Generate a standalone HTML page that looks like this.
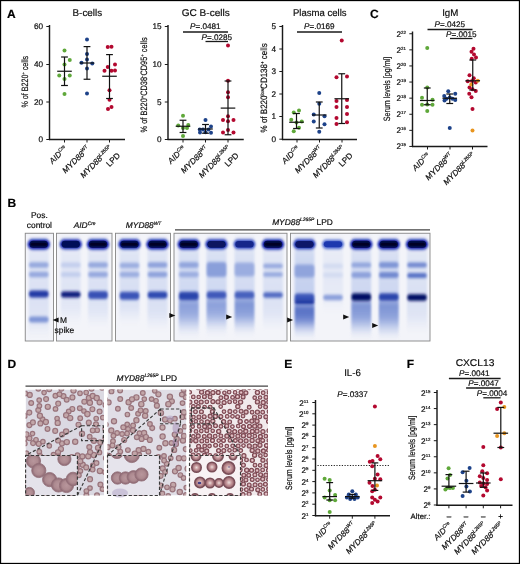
<!DOCTYPE html>
<html><head><meta charset="utf-8"><title>Figure</title>
<style>html,body{margin:0;padding:0;background:#fff;} svg{display:block;} text{font-family:'Liberation Sans', Arial, sans-serif;stroke:#000;stroke-width:0.18px;}</style>
</head><body>
<svg width="520" height="564" viewBox="0 0 520 564" text-rendering="geometricPrecision">
<rect x="0" y="0" width="520" height="564" fill="#fff"/>
<text x="7" y="17.9" font-size="12" text-anchor="start" font-weight="bold" font-style="normal" fill="#000" >A</text>
<text x="370" y="17.9" font-size="12" text-anchor="start" font-weight="bold" font-style="normal" fill="#000" >C</text>
<text x="7.6" y="207.0" font-size="12" text-anchor="start" font-weight="bold" font-style="normal" fill="#000" >B</text>
<text x="7.6" y="367.7" font-size="12" text-anchor="start" font-weight="bold" font-style="normal" fill="#000" >D</text>
<text x="284.3" y="367.7" font-size="12" text-anchor="start" font-weight="bold" font-style="normal" fill="#000" >E</text>
<text x="406.8" y="367.7" font-size="12" text-anchor="start" font-weight="bold" font-style="normal" fill="#000" >F</text>
<text x="72.55" y="15.6" font-size="9.8" textLength="29.60" lengthAdjust="spacingAndGlyphs" fill="#111">B-cells</text>
<line x1="49.5" y1="25" x2="49.5" y2="140.1" stroke="#1a1a1a" stroke-width="1.45" />
<line x1="46.3" y1="26.5" x2="49.5" y2="26.5" stroke="#1a1a1a" stroke-width="1.0" />
<text x="43.0" y="29.4" font-size="8.2" text-anchor="end" font-weight="normal" font-style="normal" fill="#111" >60</text>
<line x1="46.3" y1="64.5" x2="49.5" y2="64.5" stroke="#1a1a1a" stroke-width="1.0" />
<text x="43.0" y="67.4" font-size="8.2" text-anchor="end" font-weight="normal" font-style="normal" fill="#111" >40</text>
<line x1="46.3" y1="102" x2="49.5" y2="102" stroke="#1a1a1a" stroke-width="1.0" />
<text x="43.0" y="104.9" font-size="8.2" text-anchor="end" font-weight="normal" font-style="normal" fill="#111" >20</text>
<line x1="46.3" y1="139.5" x2="49.5" y2="139.5" stroke="#1a1a1a" stroke-width="1.0" />
<text x="43.0" y="142.4" font-size="8.2" text-anchor="end" font-weight="normal" font-style="normal" fill="#111" >0</text>
<line x1="48.9" y1="139.5" x2="125" y2="139.5" stroke="#1a1a1a" stroke-width="1.45" />
<line x1="64.5" y1="139.5" x2="64.5" y2="142.5" stroke="#1a1a1a" stroke-width="1.0" />
<line x1="87" y1="139.5" x2="87" y2="142.5" stroke="#1a1a1a" stroke-width="1.0" />
<line x1="109.5" y1="139.5" x2="109.5" y2="142.5" stroke="#1a1a1a" stroke-width="1.0" />
<text transform="translate(27.5,81.7) rotate(-90)" x="-25.8" y="0" font-size="9.2" textLength="51.6" lengthAdjust="spacingAndGlyphs" fill="#111">% of B220<tspan font-size="5" dy="-3">+</tspan><tspan dy="3"> cells</tspan></text>
<text transform="translate(67.8,149.1) rotate(-45)" font-size="8.2" text-anchor="end" fill="#111"><tspan font-style="italic">AID</tspan><tspan font-style="italic" font-size="4.9" dy="-3.3">Cre</tspan></text>
<text transform="translate(90.3,149.1) rotate(-45)" font-size="8.2" text-anchor="end" fill="#111"><tspan font-style="italic">MYD88</tspan><tspan font-style="italic" font-size="4.9" dy="-3.3">WT</tspan></text>
<text transform="translate(112.8,149.1) rotate(-45)" font-size="8.2" text-anchor="end" fill="#111"><tspan font-style="italic">MYD88</tspan><tspan font-style="italic" font-size="4.9" dy="-3.3">L265P</tspan></text>
<text transform="translate(120.8,156.0) rotate(-45)" font-size="8.2" text-anchor="end" fill="#111">LPD</text>
<circle cx="64.5" cy="50.6" r="2.0" fill="#5fa83a"/>
<circle cx="69.75" cy="60" r="2.0" fill="#5fa83a"/>
<circle cx="64.5" cy="64.5" r="2.0" fill="#5fa83a"/>
<circle cx="59.25" cy="75.6" r="2.0" fill="#5fa83a"/>
<circle cx="69.75" cy="75.6" r="2.0" fill="#5fa83a"/>
<circle cx="64.5" cy="79" r="2.0" fill="#5fa83a"/>
<circle cx="64.5" cy="94.1" r="2.0" fill="#5fa83a"/>
<circle cx="87" cy="39.6" r="2.0" fill="#1d4289"/>
<circle cx="87" cy="54.1" r="2.0" fill="#1d4289"/>
<circle cx="87" cy="59.5" r="2.0" fill="#1d4289"/>
<circle cx="81.5" cy="62.75" r="2.0" fill="#1d4289"/>
<circle cx="92.25" cy="63.5" r="2.0" fill="#1d4289"/>
<circle cx="87" cy="68.5" r="2.0" fill="#1d4289"/>
<circle cx="87" cy="93.5" r="2.0" fill="#1d4289"/>
<circle cx="107.75" cy="47" r="2.0" fill="#b3082f"/>
<circle cx="111.5" cy="46.75" r="2.0" fill="#b3082f"/>
<circle cx="115" cy="64.5" r="2.0" fill="#b3082f"/>
<circle cx="107.75" cy="67" r="2.0" fill="#b3082f"/>
<circle cx="104.5" cy="70.75" r="2.0" fill="#b3082f"/>
<circle cx="111.5" cy="70.75" r="2.0" fill="#b3082f"/>
<circle cx="115" cy="70.5" r="2.0" fill="#b3082f"/>
<circle cx="109.5" cy="90.25" r="2.0" fill="#b3082f"/>
<circle cx="109.5" cy="99.75" r="2.0" fill="#b3082f"/>
<circle cx="108" cy="109" r="2.0" fill="#b3082f"/>
<circle cx="111.5" cy="107" r="2.0" fill="#b3082f"/>
<text x="181.65" y="15.6" font-size="9.8" textLength="48.20" lengthAdjust="spacingAndGlyphs" fill="#111">GC B-cells</text>
<line x1="168" y1="25" x2="168" y2="140.1" stroke="#1a1a1a" stroke-width="1.45" />
<line x1="164.8" y1="26.5" x2="168" y2="26.5" stroke="#1a1a1a" stroke-width="1.0" />
<text x="161.5" y="29.4" font-size="8.2" text-anchor="end" font-weight="normal" font-style="normal" fill="#111" >15</text>
<line x1="164.8" y1="64.5" x2="168" y2="64.5" stroke="#1a1a1a" stroke-width="1.0" />
<text x="161.5" y="67.4" font-size="8.2" text-anchor="end" font-weight="normal" font-style="normal" fill="#111" >10</text>
<line x1="164.8" y1="102" x2="168" y2="102" stroke="#1a1a1a" stroke-width="1.0" />
<text x="161.5" y="104.9" font-size="8.2" text-anchor="end" font-weight="normal" font-style="normal" fill="#111" >5</text>
<line x1="164.8" y1="139.5" x2="168" y2="139.5" stroke="#1a1a1a" stroke-width="1.0" />
<text x="161.5" y="142.4" font-size="8.2" text-anchor="end" font-weight="normal" font-style="normal" fill="#111" >0</text>
<line x1="167.4" y1="139.5" x2="243.75" y2="139.5" stroke="#1a1a1a" stroke-width="1.45" />
<line x1="183" y1="139.5" x2="183" y2="142.5" stroke="#1a1a1a" stroke-width="1.0" />
<line x1="205.5" y1="139.5" x2="205.5" y2="142.5" stroke="#1a1a1a" stroke-width="1.0" />
<line x1="228" y1="139.5" x2="228" y2="142.5" stroke="#1a1a1a" stroke-width="1.0" />
<text transform="translate(147.4,84.9) rotate(-90)" x="-47.5" y="0" font-size="9.2" textLength="95" lengthAdjust="spacingAndGlyphs" fill="#111">% of B220<tspan font-size="5" dy="-3">+</tspan><tspan dy="3">CD38</tspan><tspan font-size="5" dy="-3">-</tspan><tspan dy="3">CD95</tspan><tspan font-size="5" dy="-3">+</tspan><tspan dy="3"> cells</tspan></text>
<text transform="translate(186.3,149.1) rotate(-45)" font-size="8.2" text-anchor="end" fill="#111"><tspan font-style="italic">AID</tspan><tspan font-style="italic" font-size="4.9" dy="-3.3">Cre</tspan></text>
<text transform="translate(208.8,149.1) rotate(-45)" font-size="8.2" text-anchor="end" fill="#111"><tspan font-style="italic">MYD88</tspan><tspan font-style="italic" font-size="4.9" dy="-3.3">WT</tspan></text>
<text transform="translate(231.3,149.1) rotate(-45)" font-size="8.2" text-anchor="end" fill="#111"><tspan font-style="italic">MYD88</tspan><tspan font-style="italic" font-size="4.9" dy="-3.3">L265P</tspan></text>
<text transform="translate(239.3,156.0) rotate(-45)" font-size="8.2" text-anchor="end" fill="#111">LPD</text>
<text x="190.00" y="29.2" font-size="8.1" textLength="30.6" lengthAdjust="spacingAndGlyphs" fill="#111"><tspan font-style="italic">P</tspan>=.0481</text>
<line x1="183" y1="32" x2="228" y2="32" stroke="#1a1a1a" stroke-width="1.3" />
<text x="201.45" y="39.6" font-size="8.1" textLength="30.6" lengthAdjust="spacingAndGlyphs" fill="#111"><tspan font-style="italic">P</tspan>=.0285</text>
<line x1="205.5" y1="41.5" x2="228" y2="41.5" stroke="#1a1a1a" stroke-width="1.3" />
<circle cx="183" cy="115.75" r="2.0" fill="#5fa83a"/>
<circle cx="178.25" cy="125.6" r="2.0" fill="#5fa83a"/>
<circle cx="188.25" cy="125" r="2.0" fill="#5fa83a"/>
<circle cx="187" cy="128" r="2.0" fill="#5fa83a"/>
<circle cx="183" cy="128" r="2.0" fill="#5fa83a"/>
<circle cx="183" cy="136" r="2.0" fill="#5fa83a"/>
<circle cx="205.5" cy="120" r="2.0" fill="#1d4289"/>
<circle cx="211" cy="126.5" r="2.0" fill="#1d4289"/>
<circle cx="199.75" cy="129.5" r="2.0" fill="#1d4289"/>
<circle cx="203" cy="129.5" r="2.0" fill="#1d4289"/>
<circle cx="208.5" cy="129.5" r="2.0" fill="#1d4289"/>
<circle cx="200" cy="132.5" r="2.0" fill="#1d4289"/>
<circle cx="205.5" cy="132.25" r="2.0" fill="#1d4289"/>
<circle cx="211" cy="132.75" r="2.0" fill="#1d4289"/>
<circle cx="228" cy="45.6" r="2.0" fill="#b3082f"/>
<circle cx="228" cy="80.75" r="2.0" fill="#b3082f"/>
<circle cx="228" cy="92.25" r="2.0" fill="#b3082f"/>
<circle cx="228" cy="97.25" r="2.0" fill="#b3082f"/>
<circle cx="228" cy="116.25" r="2.0" fill="#b3082f"/>
<circle cx="223" cy="120" r="2.0" fill="#b3082f"/>
<circle cx="228" cy="121.25" r="2.0" fill="#b3082f"/>
<circle cx="233.5" cy="120" r="2.0" fill="#b3082f"/>
<circle cx="228" cy="130" r="2.0" fill="#b3082f"/>
<circle cx="223" cy="132.5" r="2.0" fill="#b3082f"/>
<circle cx="233.5" cy="132.5" r="2.0" fill="#b3082f"/>
<text x="292.95" y="15.6" font-size="9.8" textLength="53.60" lengthAdjust="spacingAndGlyphs" fill="#111">Plasma cells</text>
<line x1="282.5" y1="25" x2="282.5" y2="140.1" stroke="#1a1a1a" stroke-width="1.45" />
<line x1="279.3" y1="26.5" x2="282.5" y2="26.5" stroke="#1a1a1a" stroke-width="1.0" />
<text x="276.0" y="29.4" font-size="8.2" text-anchor="end" font-weight="normal" font-style="normal" fill="#111" >5</text>
<line x1="279.3" y1="49" x2="282.5" y2="49" stroke="#1a1a1a" stroke-width="1.0" />
<text x="276.0" y="51.9" font-size="8.2" text-anchor="end" font-weight="normal" font-style="normal" fill="#111" >4</text>
<line x1="279.3" y1="71.5" x2="282.5" y2="71.5" stroke="#1a1a1a" stroke-width="1.0" />
<text x="276.0" y="74.4" font-size="8.2" text-anchor="end" font-weight="normal" font-style="normal" fill="#111" >3</text>
<line x1="279.3" y1="94" x2="282.5" y2="94" stroke="#1a1a1a" stroke-width="1.0" />
<text x="276.0" y="96.9" font-size="8.2" text-anchor="end" font-weight="normal" font-style="normal" fill="#111" >2</text>
<line x1="279.3" y1="116.5" x2="282.5" y2="116.5" stroke="#1a1a1a" stroke-width="1.0" />
<text x="276.0" y="119.4" font-size="8.2" text-anchor="end" font-weight="normal" font-style="normal" fill="#111" >1</text>
<line x1="279.3" y1="139.2" x2="282.5" y2="139.2" stroke="#1a1a1a" stroke-width="1.0" />
<text x="276.0" y="142.1" font-size="8.2" text-anchor="end" font-weight="normal" font-style="normal" fill="#111" >0</text>
<line x1="281.9" y1="139.5" x2="357" y2="139.5" stroke="#1a1a1a" stroke-width="1.45" />
<line x1="297" y1="139.5" x2="297" y2="142.5" stroke="#1a1a1a" stroke-width="1.0" />
<line x1="319.5" y1="139.5" x2="319.5" y2="142.5" stroke="#1a1a1a" stroke-width="1.0" />
<line x1="342" y1="139.5" x2="342" y2="142.5" stroke="#1a1a1a" stroke-width="1.0" />
<text transform="translate(266.5,87.8) rotate(-90)" x="-44.65" y="0" font-size="9.2" textLength="89.3" lengthAdjust="spacingAndGlyphs" fill="#111">% of B220<tspan font-size="5" dy="-3">low</tspan><tspan dy="3">CD138</tspan><tspan font-size="5" dy="-3">+</tspan><tspan dy="3"> cells</tspan></text>
<text transform="translate(300.3,149.1) rotate(-45)" font-size="8.2" text-anchor="end" fill="#111"><tspan font-style="italic">AID</tspan><tspan font-style="italic" font-size="4.9" dy="-3.3">Cre</tspan></text>
<text transform="translate(322.8,149.1) rotate(-45)" font-size="8.2" text-anchor="end" fill="#111"><tspan font-style="italic">MYD88</tspan><tspan font-style="italic" font-size="4.9" dy="-3.3">WT</tspan></text>
<text transform="translate(345.3,149.1) rotate(-45)" font-size="8.2" text-anchor="end" fill="#111"><tspan font-style="italic">MYD88</tspan><tspan font-style="italic" font-size="4.9" dy="-3.3">L265P</tspan></text>
<text transform="translate(353.3,156.0) rotate(-45)" font-size="8.2" text-anchor="end" fill="#111">LPD</text>
<text x="303.95" y="29.2" font-size="8.1" textLength="30.6" lengthAdjust="spacingAndGlyphs" fill="#111"><tspan font-style="italic">P</tspan>=.0169</text>
<line x1="297" y1="32" x2="342" y2="32" stroke="#1a1a1a" stroke-width="1.3" />
<circle cx="293.75" cy="112.5" r="2.0" fill="#5fa83a"/>
<circle cx="299" cy="110.5" r="2.0" fill="#5fa83a"/>
<circle cx="291.25" cy="119.75" r="2.0" fill="#5fa83a"/>
<circle cx="301.75" cy="121.5" r="2.0" fill="#5fa83a"/>
<circle cx="296.5" cy="122.5" r="2.0" fill="#5fa83a"/>
<circle cx="299" cy="127.75" r="2.0" fill="#5fa83a"/>
<circle cx="293.75" cy="131.25" r="2.0" fill="#5fa83a"/>
<circle cx="319.25" cy="93" r="2.0" fill="#1d4289"/>
<circle cx="319.25" cy="103.75" r="2.0" fill="#1d4289"/>
<circle cx="313.75" cy="114.5" r="2.0" fill="#1d4289"/>
<circle cx="324.5" cy="116.25" r="2.0" fill="#1d4289"/>
<circle cx="313.75" cy="121.5" r="2.0" fill="#1d4289"/>
<circle cx="324.5" cy="124.25" r="2.0" fill="#1d4289"/>
<circle cx="319.25" cy="131.75" r="2.0" fill="#1d4289"/>
<circle cx="341.75" cy="40.5" r="2.0" fill="#b3082f"/>
<circle cx="336.5" cy="77.25" r="2.0" fill="#b3082f"/>
<circle cx="347" cy="76.5" r="2.0" fill="#b3082f"/>
<circle cx="336.5" cy="101" r="2.0" fill="#b3082f"/>
<circle cx="347" cy="100" r="2.0" fill="#b3082f"/>
<circle cx="336.5" cy="107" r="2.0" fill="#b3082f"/>
<circle cx="347" cy="107" r="2.0" fill="#b3082f"/>
<circle cx="347" cy="114" r="2.0" fill="#b3082f"/>
<circle cx="336.5" cy="118" r="2.0" fill="#b3082f"/>
<circle cx="336.5" cy="124" r="2.0" fill="#b3082f"/>
<circle cx="347" cy="122.25" r="2.0" fill="#b3082f"/>
<text x="442.15" y="15.6" font-size="9.8" textLength="16.20" lengthAdjust="spacingAndGlyphs" fill="#111">IgM</text>
<line x1="412.5" y1="31.5" x2="412.5" y2="147.1" stroke="#1a1a1a" stroke-width="1.45" />
<line x1="409.3" y1="33.75" x2="412.5" y2="33.75" stroke="#1a1a1a" stroke-width="1.0" />
<text x="405.9" y="36.75" font-size="8.2" text-anchor="end" fill="#111">2<tspan font-size="4.4" dy="-3.0">22</tspan></text>
<line x1="409.3" y1="49.85" x2="412.5" y2="49.85" stroke="#1a1a1a" stroke-width="1.0" />
<text x="405.9" y="52.85" font-size="8.2" text-anchor="end" fill="#111">2<tspan font-size="4.4" dy="-3.0">21</tspan></text>
<line x1="409.3" y1="65.95" x2="412.5" y2="65.95" stroke="#1a1a1a" stroke-width="1.0" />
<text x="405.9" y="68.95" font-size="8.2" text-anchor="end" fill="#111">2<tspan font-size="4.4" dy="-3.0">20</tspan></text>
<line x1="409.3" y1="82.05000000000001" x2="412.5" y2="82.05000000000001" stroke="#1a1a1a" stroke-width="1.0" />
<text x="405.9" y="85.05000000000001" font-size="8.2" text-anchor="end" fill="#111">2<tspan font-size="4.4" dy="-3.0">19</tspan></text>
<line x1="409.3" y1="98.15" x2="412.5" y2="98.15" stroke="#1a1a1a" stroke-width="1.0" />
<text x="405.9" y="101.15" font-size="8.2" text-anchor="end" fill="#111">2<tspan font-size="4.4" dy="-3.0">18</tspan></text>
<line x1="409.3" y1="114.25" x2="412.5" y2="114.25" stroke="#1a1a1a" stroke-width="1.0" />
<text x="405.9" y="117.25" font-size="8.2" text-anchor="end" fill="#111">2<tspan font-size="4.4" dy="-3.0">17</tspan></text>
<line x1="409.3" y1="130.35000000000002" x2="412.5" y2="130.35000000000002" stroke="#1a1a1a" stroke-width="1.0" />
<text x="405.9" y="133.35000000000002" font-size="8.2" text-anchor="end" fill="#111">2<tspan font-size="4.4" dy="-3.0">16</tspan></text>
<line x1="409.3" y1="146.45000000000002" x2="412.5" y2="146.45000000000002" stroke="#1a1a1a" stroke-width="1.0" />
<text x="405.9" y="149.45000000000002" font-size="8.2" text-anchor="end" fill="#111">2<tspan font-size="4.4" dy="-3.0">15</tspan></text>
<line x1="411.9" y1="146.5" x2="487.5" y2="146.5" stroke="#1a1a1a" stroke-width="1.45" />
<line x1="427.5" y1="146.5" x2="427.5" y2="149.5" stroke="#1a1a1a" stroke-width="1.0" />
<line x1="450" y1="146.5" x2="450" y2="149.5" stroke="#1a1a1a" stroke-width="1.0" />
<line x1="472.5" y1="146.5" x2="472.5" y2="149.5" stroke="#1a1a1a" stroke-width="1.0" />
<text transform="translate(389.8,89) rotate(-90)" x="-32.15" y="0" font-size="9.2" textLength="64.3" lengthAdjust="spacingAndGlyphs" fill="#111">Serum levels [pg/ml]</text>
<text transform="translate(430.8,156.1) rotate(-45)" font-size="8.2" text-anchor="end" fill="#111"><tspan font-style="italic">AID</tspan><tspan font-style="italic" font-size="4.9" dy="-3.3">Cre</tspan></text>
<text transform="translate(453.3,156.1) rotate(-45)" font-size="8.2" text-anchor="end" fill="#111"><tspan font-style="italic">MYD88</tspan><tspan font-style="italic" font-size="4.9" dy="-3.3">WT</tspan></text>
<text transform="translate(475.8,156.1) rotate(-45)" font-size="8.2" text-anchor="end" fill="#111"><tspan font-style="italic">MYD88</tspan><tspan font-style="italic" font-size="4.9" dy="-3.3">L265P</tspan></text>
<text x="434.45" y="27.2" font-size="8.1" textLength="30.6" lengthAdjust="spacingAndGlyphs" fill="#111"><tspan font-style="italic">P</tspan>=.0425</text>
<line x1="427.5" y1="29.5" x2="472.5" y2="29.5" stroke="#1a1a1a" stroke-width="1.3" />
<text x="445.95" y="36.6" font-size="8.1" textLength="30.6" lengthAdjust="spacingAndGlyphs" fill="#111"><tspan font-style="italic">P</tspan>=.0015</text>
<line x1="450" y1="38.5" x2="472.5" y2="38.5" stroke="#1a1a1a" stroke-width="1.3" />
<circle cx="427.25" cy="48" r="2.0" fill="#5fa83a"/>
<circle cx="427.25" cy="87.5" r="2.0" fill="#5fa83a"/>
<circle cx="422" cy="97.75" r="2.0" fill="#5fa83a"/>
<circle cx="432.5" cy="99.75" r="2.0" fill="#5fa83a"/>
<circle cx="422" cy="104.75" r="2.0" fill="#5fa83a"/>
<circle cx="432.5" cy="104.75" r="2.0" fill="#5fa83a"/>
<circle cx="427.25" cy="104.5" r="2.0" fill="#5fa83a"/>
<circle cx="427.25" cy="111" r="2.0" fill="#5fa83a"/>
<circle cx="448.25" cy="91.25" r="2.0" fill="#1d4289"/>
<circle cx="455.25" cy="93.75" r="2.0" fill="#1d4289"/>
<circle cx="444.25" cy="96" r="2.0" fill="#1d4289"/>
<circle cx="449.75" cy="97.5" r="2.0" fill="#1d4289"/>
<circle cx="446.5" cy="98.75" r="2.0" fill="#1d4289"/>
<circle cx="452.5" cy="98.75" r="2.0" fill="#1d4289"/>
<circle cx="455.25" cy="100" r="2.0" fill="#1d4289"/>
<circle cx="444.5" cy="100.5" r="2.0" fill="#1d4289"/>
<circle cx="449.75" cy="128" r="2.0" fill="#1d4289"/>
<circle cx="473.5" cy="48.75" r="2.0" fill="#b3082f"/>
<circle cx="471.5" cy="51.75" r="2.0" fill="#b3082f"/>
<circle cx="474" cy="54.5" r="2.0" fill="#b3082f"/>
<circle cx="476" cy="57.5" r="2.0" fill="#b3082f"/>
<circle cx="471.75" cy="58.75" r="2.0" fill="#b3082f"/>
<circle cx="469.5" cy="75.25" r="2.0" fill="#b3082f"/>
<circle cx="473.75" cy="78.25" r="2.0" fill="#b3082f"/>
<circle cx="467.75" cy="81.25" r="2.0" fill="#b3082f"/>
<circle cx="472" cy="81" r="2.0" fill="#b3082f"/>
<circle cx="475.75" cy="82.5" r="2.0" fill="#b3082f"/>
<circle cx="469.5" cy="87.5" r="2.0" fill="#b3082f"/>
<circle cx="472.5" cy="89.25" r="2.0" fill="#b3082f"/>
<circle cx="475.75" cy="91" r="2.0" fill="#b3082f"/>
<circle cx="469.25" cy="93.75" r="2.0" fill="#b3082f"/>
<circle cx="471.5" cy="97.25" r="2.0" fill="#b3082f"/>
<circle cx="472.5" cy="109" r="2.0" fill="#b3082f"/>
<circle cx="477.75" cy="80.75" r="2.0" fill="#e8951f"/>
<circle cx="471.25" cy="84.5" r="2.0" fill="#e8951f"/>
<circle cx="472.5" cy="130.5" r="2.0" fill="#e8951f"/>
<text x="344.15" y="375.6" font-size="9.8" textLength="16.70" lengthAdjust="spacingAndGlyphs" fill="#111">IL-6</text>
<line x1="315.5" y1="400" x2="315.5" y2="516.3000000000001" stroke="#1a1a1a" stroke-width="1.45" />
<line x1="312.3" y1="402.5" x2="315.5" y2="402.5" stroke="#1a1a1a" stroke-width="1.0" />
<text x="308.4" y="405.5" font-size="8.2" text-anchor="end" fill="#111">2<tspan font-size="4.4" dy="-3.0">11</tspan></text>
<line x1="312.3" y1="413.8" x2="315.5" y2="413.8" stroke="#1a1a1a" stroke-width="1.0" />
<text x="308.4" y="416.8" font-size="8.2" text-anchor="end" fill="#111">2<tspan font-size="4.4" dy="-3.0">10</tspan></text>
<line x1="312.3" y1="425.1" x2="315.5" y2="425.1" stroke="#1a1a1a" stroke-width="1.0" />
<text x="308.4" y="428.1" font-size="8.2" text-anchor="end" fill="#111">2<tspan font-size="4.4" dy="-3.0">9</tspan></text>
<line x1="312.3" y1="436.4" x2="315.5" y2="436.4" stroke="#1a1a1a" stroke-width="1.0" />
<text x="308.4" y="439.4" font-size="8.2" text-anchor="end" fill="#111">2<tspan font-size="4.4" dy="-3.0">8</tspan></text>
<line x1="312.3" y1="447.7" x2="315.5" y2="447.7" stroke="#1a1a1a" stroke-width="1.0" />
<text x="308.4" y="450.7" font-size="8.2" text-anchor="end" fill="#111">2<tspan font-size="4.4" dy="-3.0">7</tspan></text>
<line x1="312.3" y1="459.0" x2="315.5" y2="459.0" stroke="#1a1a1a" stroke-width="1.0" />
<text x="308.4" y="462.0" font-size="8.2" text-anchor="end" fill="#111">2<tspan font-size="4.4" dy="-3.0">6</tspan></text>
<line x1="312.3" y1="470.3" x2="315.5" y2="470.3" stroke="#1a1a1a" stroke-width="1.0" />
<text x="308.4" y="473.3" font-size="8.2" text-anchor="end" fill="#111">2<tspan font-size="4.4" dy="-3.0">5</tspan></text>
<line x1="312.3" y1="481.6" x2="315.5" y2="481.6" stroke="#1a1a1a" stroke-width="1.0" />
<text x="308.4" y="484.6" font-size="8.2" text-anchor="end" fill="#111">2<tspan font-size="4.4" dy="-3.0">4</tspan></text>
<line x1="312.3" y1="492.9" x2="315.5" y2="492.9" stroke="#1a1a1a" stroke-width="1.0" />
<text x="308.4" y="495.9" font-size="8.2" text-anchor="end" fill="#111">2<tspan font-size="4.4" dy="-3.0">3</tspan></text>
<line x1="312.3" y1="504.2" x2="315.5" y2="504.2" stroke="#1a1a1a" stroke-width="1.0" />
<text x="308.4" y="507.2" font-size="8.2" text-anchor="end" fill="#111">2<tspan font-size="4.4" dy="-3.0">2</tspan></text>
<line x1="312.3" y1="515.5" x2="315.5" y2="515.5" stroke="#1a1a1a" stroke-width="1.0" />
<text x="308.4" y="518.5" font-size="8.2" text-anchor="end" fill="#111">2<tspan font-size="4.4" dy="-3.0">1</tspan></text>
<line x1="314.9" y1="515.7" x2="390" y2="515.7" stroke="#1a1a1a" stroke-width="1.45" />
<line x1="329.7" y1="515.7" x2="329.7" y2="518.7" stroke="#1a1a1a" stroke-width="1.0" />
<line x1="352.3" y1="515.7" x2="352.3" y2="518.7" stroke="#1a1a1a" stroke-width="1.0" />
<line x1="374.9" y1="515.7" x2="374.9" y2="518.7" stroke="#1a1a1a" stroke-width="1.0" />
<text transform="translate(291.6,458.2) rotate(-90)" x="-31.75" y="0" font-size="9.2" textLength="63.5" lengthAdjust="spacingAndGlyphs" fill="#111">Serum levels [pg/ml]</text>
<text transform="translate(333.0,525.3000000000001) rotate(-45)" font-size="8.2" text-anchor="end" fill="#111"><tspan font-style="italic">AID</tspan><tspan font-style="italic" font-size="4.9" dy="-3.3">Cre</tspan></text>
<text transform="translate(355.6,525.3000000000001) rotate(-45)" font-size="8.2" text-anchor="end" fill="#111"><tspan font-style="italic">MYD88</tspan><tspan font-style="italic" font-size="4.9" dy="-3.3">WT</tspan></text>
<text transform="translate(378.2,525.3000000000001) rotate(-45)" font-size="8.2" text-anchor="end" fill="#111"><tspan font-style="italic">MYD88</tspan><tspan font-style="italic" font-size="4.9" dy="-3.3">L265P</tspan></text>
<text x="337.20" y="397.2" font-size="8.1" textLength="30.6" lengthAdjust="spacingAndGlyphs" fill="#111"><tspan font-style="italic">P</tspan>=.0337</text>
<line x1="317.5" y1="465.5" x2="389.5" y2="465.5" stroke="#222" stroke-width="1.1" stroke-dasharray="1.2 1.5"/>
<circle cx="324.6" cy="478.8" r="2.0" fill="#5fa83a"/>
<circle cx="329.7" cy="480.1" r="2.0" fill="#5fa83a"/>
<circle cx="329.7" cy="490.6" r="2.0" fill="#5fa83a"/>
<circle cx="324.6" cy="497.4" r="2.0" fill="#5fa83a"/>
<circle cx="335.1" cy="495" r="2.0" fill="#5fa83a"/>
<circle cx="329.7" cy="500.3" r="2.0" fill="#5fa83a"/>
<circle cx="335.1" cy="500.3" r="2.0" fill="#5fa83a"/>
<circle cx="329.7" cy="511.9" r="2.0" fill="#5fa83a"/>
<circle cx="352.3" cy="491.2" r="2.0" fill="#1d4289"/>
<circle cx="348.8" cy="494.4" r="2.0" fill="#1d4289"/>
<circle cx="355.8" cy="494.4" r="2.0" fill="#1d4289"/>
<circle cx="346.9" cy="497.4" r="2.0" fill="#1d4289"/>
<circle cx="351" cy="497.4" r="2.0" fill="#1d4289"/>
<circle cx="354" cy="497.4" r="2.0" fill="#1d4289"/>
<circle cx="357.7" cy="497.4" r="2.0" fill="#1d4289"/>
<circle cx="350.2" cy="499" r="2.0" fill="#1d4289"/>
<circle cx="354.5" cy="499" r="2.0" fill="#1d4289"/>
<circle cx="374.9" cy="406.5" r="2.0" fill="#b3082f"/>
<circle cx="377.6" cy="456" r="2.0" fill="#b3082f"/>
<circle cx="380.3" cy="459.2" r="2.0" fill="#b3082f"/>
<circle cx="369.8" cy="461.8" r="2.0" fill="#b3082f"/>
<circle cx="372.5" cy="461" r="2.0" fill="#b3082f"/>
<circle cx="372.2" cy="466.2" r="2.0" fill="#b3082f"/>
<circle cx="377.6" cy="474.5" r="2.0" fill="#b3082f"/>
<circle cx="374.9" cy="478.8" r="2.0" fill="#b3082f"/>
<circle cx="380.3" cy="479.3" r="2.0" fill="#b3082f"/>
<circle cx="369.5" cy="482.8" r="2.0" fill="#b3082f"/>
<circle cx="372.5" cy="486" r="2.0" fill="#b3082f"/>
<circle cx="374.9" cy="489.8" r="2.0" fill="#b3082f"/>
<circle cx="372.2" cy="491.2" r="2.0" fill="#b3082f"/>
<circle cx="372.2" cy="497.4" r="2.0" fill="#b3082f"/>
<circle cx="380.3" cy="497.4" r="2.0" fill="#b3082f"/>
<circle cx="374.9" cy="499.8" r="2.0" fill="#b3082f"/>
<circle cx="377.6" cy="501.4" r="2.0" fill="#b3082f"/>
<circle cx="372.2" cy="503" r="2.0" fill="#b3082f"/>
<circle cx="374.9" cy="446" r="2.0" fill="#e8951f"/>
<circle cx="377" cy="485.5" r="2.0" fill="#e8951f"/>
<text x="455.65" y="366" font-size="9.8" textLength="38.70" lengthAdjust="spacingAndGlyphs" fill="#111">CXCL13</text>
<line x1="437" y1="390" x2="437" y2="505.90000000000003" stroke="#1a1a1a" stroke-width="1.45" />
<line x1="433.8" y1="392.5" x2="437" y2="392.5" stroke="#1a1a1a" stroke-width="1.0" />
<text x="430.4" y="395.5" font-size="8.2" text-anchor="end" fill="#111">2<tspan font-size="4.4" dy="-3.0">15</tspan></text>
<line x1="433.8" y1="408.57" x2="437" y2="408.57" stroke="#1a1a1a" stroke-width="1.0" />
<text x="430.4" y="411.57" font-size="8.2" text-anchor="end" fill="#111">2<tspan font-size="4.4" dy="-3.0">14</tspan></text>
<line x1="433.8" y1="424.64" x2="437" y2="424.64" stroke="#1a1a1a" stroke-width="1.0" />
<text x="430.4" y="427.64" font-size="8.2" text-anchor="end" fill="#111">2<tspan font-size="4.4" dy="-3.0">13</tspan></text>
<line x1="433.8" y1="440.71" x2="437" y2="440.71" stroke="#1a1a1a" stroke-width="1.0" />
<text x="430.4" y="443.71" font-size="8.2" text-anchor="end" fill="#111">2<tspan font-size="4.4" dy="-3.0">12</tspan></text>
<line x1="433.8" y1="456.78" x2="437" y2="456.78" stroke="#1a1a1a" stroke-width="1.0" />
<text x="430.4" y="459.78" font-size="8.2" text-anchor="end" fill="#111">2<tspan font-size="4.4" dy="-3.0">11</tspan></text>
<line x1="433.8" y1="472.85" x2="437" y2="472.85" stroke="#1a1a1a" stroke-width="1.0" />
<text x="430.4" y="475.85" font-size="8.2" text-anchor="end" fill="#111">2<tspan font-size="4.4" dy="-3.0">10</tspan></text>
<line x1="433.8" y1="488.92" x2="437" y2="488.92" stroke="#1a1a1a" stroke-width="1.0" />
<text x="430.4" y="491.92" font-size="8.2" text-anchor="end" fill="#111">2<tspan font-size="4.4" dy="-3.0">9</tspan></text>
<line x1="433.8" y1="504.99" x2="437" y2="504.99" stroke="#1a1a1a" stroke-width="1.0" />
<text x="430.4" y="507.99" font-size="8.2" text-anchor="end" fill="#111">2<tspan font-size="4.4" dy="-3.0">8</tspan></text>
<line x1="436.4" y1="505.3" x2="512.5" y2="505.3" stroke="#1a1a1a" stroke-width="1.45" />
<line x1="448.9" y1="505.3" x2="448.9" y2="508.3" stroke="#1a1a1a" stroke-width="1.0" />
<line x1="466.1" y1="505.3" x2="466.1" y2="508.3" stroke="#1a1a1a" stroke-width="1.0" />
<line x1="483.3" y1="505.3" x2="483.3" y2="508.3" stroke="#1a1a1a" stroke-width="1.0" />
<line x1="500.6" y1="505.3" x2="500.6" y2="508.3" stroke="#1a1a1a" stroke-width="1.0" />
<text transform="translate(414.6,447.8) rotate(-90)" x="-32.15" y="0" font-size="9.2" textLength="64.3" lengthAdjust="spacingAndGlyphs" fill="#111">Serum levels [pg/ml]</text>
<text x="458.95" y="376.2" font-size="8.1" textLength="30.6" lengthAdjust="spacingAndGlyphs" fill="#111"><tspan font-style="italic">P</tspan>=.0041</text>
<line x1="448.9" y1="378.5" x2="500.6" y2="378.5" stroke="#1a1a1a" stroke-width="1.3" />
<text x="468.20" y="385.6" font-size="8.1" textLength="30.6" lengthAdjust="spacingAndGlyphs" fill="#111"><tspan font-style="italic">P</tspan>=.0047</text>
<line x1="466.1" y1="388" x2="500.6" y2="388" stroke="#1a1a1a" stroke-width="1.3" />
<text x="476.70" y="395.6" font-size="8.1" textLength="30.6" lengthAdjust="spacingAndGlyphs" fill="#111"><tspan font-style="italic">P</tspan>=.0004</text>
<line x1="483.3" y1="397.8" x2="500.6" y2="397.8" stroke="#1a1a1a" stroke-width="1.3" />
<text x="430.5" y="519.2" font-size="7.8" text-anchor="end" font-weight="normal" font-style="normal" fill="#111" >Alter.:</text>
<text x="448.9" y="519.2" font-size="8" text-anchor="middle" fill="#000" style="stroke-width:0.25px">–</text>
<text x="466.1" y="519.2" font-size="8" text-anchor="middle" fill="#000" style="stroke-width:0.25px">–</text>
<text x="483.3" y="519.2" font-size="8" text-anchor="middle" fill="#000" style="stroke-width:0.25px">–</text>
<text x="500.6" y="519.2" font-size="8" text-anchor="middle" fill="#000" style="stroke-width:0.25px">+</text>
<text transform="translate(452.2,525.6) rotate(-45)" font-size="8.2" text-anchor="end" fill="#111"><tspan font-style="italic">AID</tspan><tspan font-style="italic" font-size="4.9" dy="-3.3">Cre</tspan></text>
<text transform="translate(469.40000000000003,525.6) rotate(-45)" font-size="8.2" text-anchor="end" fill="#111"><tspan font-style="italic">MYD88</tspan><tspan font-style="italic" font-size="4.9" dy="-3.3">WT</tspan></text>
<text transform="translate(486.6,525.6) rotate(-45)" font-size="8.2" text-anchor="end" fill="#111"><tspan font-style="italic">MYD88</tspan><tspan font-style="italic" font-size="4.9" dy="-3.3">L265P</tspan></text>
<text transform="translate(503.90000000000003,525.6) rotate(-45)" font-size="8.2" text-anchor="end" fill="#111"><tspan font-style="italic">MYD88</tspan><tspan font-style="italic" font-size="4.9" dy="-3.3">L265P</tspan></text>
<circle cx="448.6" cy="468.2" r="2.0" fill="#5fa83a"/>
<circle cx="450" cy="474.9" r="2.0" fill="#5fa83a"/>
<circle cx="447.5" cy="478.4" r="2.0" fill="#5fa83a"/>
<circle cx="445.4" cy="489.5" r="2.0" fill="#5fa83a"/>
<circle cx="447.5" cy="487.8" r="2.0" fill="#5fa83a"/>
<circle cx="450" cy="488.1" r="2.0" fill="#5fa83a"/>
<circle cx="452.9" cy="488.1" r="2.0" fill="#5fa83a"/>
<circle cx="469.6" cy="467.9" r="2.0" fill="#1d4289"/>
<circle cx="462.6" cy="472.2" r="2.0" fill="#1d4289"/>
<circle cx="466.4" cy="480.8" r="2.0" fill="#1d4289"/>
<circle cx="466.4" cy="486.5" r="2.0" fill="#1d4289"/>
<circle cx="469.9" cy="491.6" r="2.0" fill="#1d4289"/>
<circle cx="462.6" cy="495.9" r="2.0" fill="#1d4289"/>
<circle cx="483.3" cy="447" r="2.0" fill="#b3082f"/>
<circle cx="483.3" cy="465.2" r="2.0" fill="#b3082f"/>
<circle cx="482.3" cy="471.2" r="2.0" fill="#b3082f"/>
<circle cx="487.1" cy="473.3" r="2.0" fill="#b3082f"/>
<circle cx="479.8" cy="476.3" r="2.0" fill="#b3082f"/>
<circle cx="487.1" cy="480" r="2.0" fill="#b3082f"/>
<circle cx="483.3" cy="478" r="2.0" fill="#b3082f"/>
<circle cx="479.8" cy="482.5" r="2.0" fill="#b3082f"/>
<circle cx="483.3" cy="483.5" r="2.0" fill="#b3082f"/>
<circle cx="487.1" cy="484.1" r="2.0" fill="#b3082f"/>
<circle cx="481.2" cy="486" r="2.0" fill="#b3082f"/>
<circle cx="485.5" cy="487.3" r="2.0" fill="#b3082f"/>
<circle cx="487.1" cy="490.5" r="2.0" fill="#b3082f"/>
<circle cx="483.3" cy="495.4" r="2.0" fill="#b3082f"/>
<circle cx="500.8" cy="479.2" r="2.0" fill="#b3082f"/>
<circle cx="500.8" cy="402.5" r="2.0" fill="#b3082f"/>
<circle cx="497.1" cy="409" r="2.0" fill="#b3082f"/>
<circle cx="500.8" cy="447.5" r="2.0" fill="#b3082f"/>
<circle cx="504.3" cy="407.1" r="2.0" fill="#e8951f"/>
<circle cx="504.3" cy="433.2" r="2.0" fill="#e8951f"/>
<circle cx="497.1" cy="435.9" r="2.0" fill="#e8951f"/>
<line x1="64.5" y1="57" x2="64.5" y2="85.5" stroke="#111" stroke-width="1.2" />
<line x1="61.1" y1="57" x2="67.9" y2="57" stroke="#111" stroke-width="1.2" />
<line x1="61.1" y1="85.5" x2="67.9" y2="85.5" stroke="#111" stroke-width="1.2" />
<line x1="57.2" y1="71.25" x2="71.8" y2="71.25" stroke="#111" stroke-width="1.2" />
<line x1="87" y1="46.6" x2="87" y2="79.25" stroke="#111" stroke-width="1.2" />
<line x1="83.6" y1="46.6" x2="90.4" y2="46.6" stroke="#111" stroke-width="1.2" />
<line x1="83.6" y1="79.25" x2="90.4" y2="79.25" stroke="#111" stroke-width="1.2" />
<line x1="79.7" y1="63" x2="94.3" y2="63" stroke="#111" stroke-width="1.2" />
<line x1="109.5" y1="54.6" x2="109.5" y2="98.5" stroke="#111" stroke-width="1.2" />
<line x1="106.1" y1="54.6" x2="112.9" y2="54.6" stroke="#111" stroke-width="1.2" />
<line x1="106.1" y1="98.5" x2="112.9" y2="98.5" stroke="#111" stroke-width="1.2" />
<line x1="102.2" y1="76.25" x2="116.8" y2="76.25" stroke="#111" stroke-width="1.2" />
<line x1="183" y1="120.25" x2="183" y2="132.5" stroke="#111" stroke-width="1.2" />
<line x1="179.6" y1="120.25" x2="186.4" y2="120.25" stroke="#111" stroke-width="1.2" />
<line x1="179.6" y1="132.5" x2="186.4" y2="132.5" stroke="#111" stroke-width="1.2" />
<line x1="175.7" y1="126.25" x2="190.3" y2="126.25" stroke="#111" stroke-width="1.2" />
<line x1="205.5" y1="124.5" x2="205.5" y2="133.25" stroke="#111" stroke-width="1.2" />
<line x1="202.1" y1="124.5" x2="208.9" y2="124.5" stroke="#111" stroke-width="1.2" />
<line x1="202.1" y1="133.25" x2="208.9" y2="133.25" stroke="#111" stroke-width="1.2" />
<line x1="198.2" y1="129" x2="212.8" y2="129" stroke="#111" stroke-width="1.2" />
<line x1="228" y1="81" x2="228" y2="134.75" stroke="#111" stroke-width="1.2" />
<line x1="224.6" y1="81" x2="231.4" y2="81" stroke="#111" stroke-width="1.2" />
<line x1="224.6" y1="134.75" x2="231.4" y2="134.75" stroke="#111" stroke-width="1.2" />
<line x1="220.7" y1="108.1" x2="235.3" y2="108.1" stroke="#111" stroke-width="1.2" />
<line x1="296.5" y1="113.5" x2="296.5" y2="128.5" stroke="#111" stroke-width="1.2" />
<line x1="293.1" y1="113.5" x2="299.9" y2="113.5" stroke="#111" stroke-width="1.2" />
<line x1="293.1" y1="128.5" x2="299.9" y2="128.5" stroke="#111" stroke-width="1.2" />
<line x1="289.2" y1="122.25" x2="303.8" y2="122.25" stroke="#111" stroke-width="1.2" />
<line x1="319.25" y1="102" x2="319.25" y2="128" stroke="#111" stroke-width="1.2" />
<line x1="315.85" y1="102" x2="322.65" y2="102" stroke="#111" stroke-width="1.2" />
<line x1="315.85" y1="128" x2="322.65" y2="128" stroke="#111" stroke-width="1.2" />
<line x1="311.95" y1="115" x2="326.55" y2="115" stroke="#111" stroke-width="1.2" />
<line x1="341.75" y1="73.75" x2="341.75" y2="123.5" stroke="#111" stroke-width="1.2" />
<line x1="338.35" y1="73.75" x2="345.15" y2="73.75" stroke="#111" stroke-width="1.2" />
<line x1="338.35" y1="123.5" x2="345.15" y2="123.5" stroke="#111" stroke-width="1.2" />
<line x1="334.45" y1="98.75" x2="349.05" y2="98.75" stroke="#111" stroke-width="1.2" />
<line x1="427.25" y1="88" x2="427.25" y2="104.75" stroke="#111" stroke-width="1.2" />
<line x1="423.85" y1="88" x2="430.65" y2="88" stroke="#111" stroke-width="1.2" />
<line x1="423.85" y1="104.75" x2="430.65" y2="104.75" stroke="#111" stroke-width="1.2" />
<line x1="419.95" y1="100.5" x2="434.55" y2="100.5" stroke="#111" stroke-width="1.2" />
<line x1="449.75" y1="94" x2="449.75" y2="103.5" stroke="#111" stroke-width="1.2" />
<line x1="446.35" y1="94" x2="453.15" y2="94" stroke="#111" stroke-width="1.2" />
<line x1="446.35" y1="103.5" x2="453.15" y2="103.5" stroke="#111" stroke-width="1.2" />
<line x1="442.45" y1="98.25" x2="457.05" y2="98.25" stroke="#111" stroke-width="1.2" />
<line x1="472.75" y1="60" x2="472.75" y2="90" stroke="#111" stroke-width="1.2" />
<line x1="469.35" y1="60" x2="476.15" y2="60" stroke="#111" stroke-width="1.2" />
<line x1="469.35" y1="90" x2="476.15" y2="90" stroke="#111" stroke-width="1.2" />
<line x1="465.45" y1="80.75" x2="480.05" y2="80.75" stroke="#111" stroke-width="1.2" />
<line x1="329.7" y1="482.6" x2="329.7" y2="500" stroke="#111" stroke-width="1.2" />
<line x1="326.3" y1="482.6" x2="333.09999999999997" y2="482.6" stroke="#111" stroke-width="1.2" />
<line x1="326.3" y1="500" x2="333.09999999999997" y2="500" stroke="#111" stroke-width="1.2" />
<line x1="322.4" y1="496.6" x2="337.0" y2="496.6" stroke="#111" stroke-width="1.2" />
<line x1="352.3" y1="494.4" x2="352.3" y2="498.2" stroke="#111" stroke-width="1.2" />
<line x1="348.90000000000003" y1="494.4" x2="355.7" y2="494.4" stroke="#111" stroke-width="1.2" />
<line x1="348.90000000000003" y1="498.2" x2="355.7" y2="498.2" stroke="#111" stroke-width="1.2" />
<line x1="345.0" y1="496.6" x2="359.6" y2="496.6" stroke="#111" stroke-width="1.2" />
<line x1="374.9" y1="462.9" x2="374.9" y2="490.4" stroke="#111" stroke-width="1.2" />
<line x1="371.5" y1="462.9" x2="378.29999999999995" y2="462.9" stroke="#111" stroke-width="1.2" />
<line x1="371.5" y1="490.4" x2="378.29999999999995" y2="490.4" stroke="#111" stroke-width="1.2" />
<line x1="367.59999999999997" y1="480.7" x2="382.2" y2="480.7" stroke="#111" stroke-width="1.2" />
<line x1="448.9" y1="474.6" x2="448.9" y2="487.3" stroke="#111" stroke-width="1.2" />
<line x1="445.5" y1="474.6" x2="452.29999999999995" y2="474.6" stroke="#111" stroke-width="1.2" />
<line x1="445.5" y1="487.3" x2="452.29999999999995" y2="487.3" stroke="#111" stroke-width="1.2" />
<line x1="441.59999999999997" y1="486.2" x2="456.2" y2="486.2" stroke="#111" stroke-width="1.2" />
<line x1="466.1" y1="471.2" x2="466.1" y2="492.1" stroke="#111" stroke-width="1.2" />
<line x1="462.70000000000005" y1="471.2" x2="469.5" y2="471.2" stroke="#111" stroke-width="1.2" />
<line x1="462.70000000000005" y1="492.1" x2="469.5" y2="492.1" stroke="#111" stroke-width="1.2" />
<line x1="458.8" y1="483.5" x2="473.40000000000003" y2="483.5" stroke="#111" stroke-width="1.2" />
<line x1="483.3" y1="473" x2="483.3" y2="487.3" stroke="#111" stroke-width="1.2" />
<line x1="479.90000000000003" y1="473" x2="486.7" y2="473" stroke="#111" stroke-width="1.2" />
<line x1="479.90000000000003" y1="487.3" x2="486.7" y2="487.3" stroke="#111" stroke-width="1.2" />
<line x1="476.0" y1="483" x2="490.6" y2="483" stroke="#111" stroke-width="1.2" />
<line x1="500.8" y1="407.4" x2="500.8" y2="447.5" stroke="#111" stroke-width="1.2" />
<line x1="497.40000000000003" y1="407.4" x2="504.2" y2="407.4" stroke="#111" stroke-width="1.2" />
<line x1="497.40000000000003" y1="447.5" x2="504.2" y2="447.5" stroke="#111" stroke-width="1.2" />
<line x1="493.5" y1="433.2" x2="508.1" y2="433.2" stroke="#111" stroke-width="1.2" />
<defs><filter id="gb1" x="-20%" y="-80%" width="140%" height="260%"><feGaussianBlur stdDeviation="1.0 1.7"/></filter><filter id="gb0" x="-20%" y="-80%" width="140%" height="260%"><feGaussianBlur stdDeviation="0.6 0.6"/></filter><filter id="gb2" x="-30%" y="-10%" width="160%" height="120%"><feGaussianBlur stdDeviation="1.0 3"/></filter><linearGradient id="gsm" x1="0" y1="0" x2="0" y2="1"><stop offset="0" stop-color="#d6def2"/><stop offset="0.25" stop-color="#c2cfee"/><stop offset="0.6" stop-color="#b6c5ec"/><stop offset="0.85" stop-color="#c4d0ef"/><stop offset="1" stop-color="#dfe5f5" stop-opacity="0.3"/></linearGradient></defs>
<text x="39.4" y="218.2" font-size="8.4" text-anchor="middle" font-weight="normal" font-style="normal" fill="#111" >Pos.</text>
<text x="39.4" y="228.4" font-size="8.4" text-anchor="middle" font-weight="normal" font-style="normal" fill="#111" >control</text>
<text x="84.6" y="228.4" font-size="8.4" text-anchor="middle" fill="#111"><tspan font-style="italic">AID</tspan><tspan font-style="italic" font-size="4.9" dy="-3.4">Cre</tspan></text>
<text x="143.6" y="228.4" font-size="8.4" text-anchor="middle" fill="#111"><tspan font-style="italic">MYD88</tspan><tspan font-style="italic" font-size="4.9" dy="-3.4">WT</tspan></text>
<text x="302.5" y="224.6" font-size="8.4" text-anchor="middle" fill="#111"><tspan font-style="italic">MYD88</tspan><tspan font-style="italic" font-size="4.9" dy="-3.4">L265P</tspan><tspan dy="3.4"> LPD</tspan></text>
<line x1="175" y1="229.8" x2="430" y2="229.8" stroke="#444" stroke-width="1.2" />
<rect x="25.25" y="233.25" width="28.25" height="107.75" fill="#f3f4f9" stroke="#858585" stroke-width="0.9"/>
<rect x="56.5" y="233.25" width="55.5" height="107.75" fill="#f3f4f9" stroke="#858585" stroke-width="0.9"/>
<rect x="115.5" y="233.25" width="55.0" height="107.75" fill="#f3f4f9" stroke="#858585" stroke-width="0.9"/>
<rect x="174" y="233.25" width="113" height="107.75" fill="#f3f4f9" stroke="#858585" stroke-width="0.9"/>
<rect x="290.5" y="233.25" width="139.5" height="107.75" fill="#f3f4f9" stroke="#858585" stroke-width="0.9"/>
<clipPath id="bx25"><rect x="25.75" y="233.75" width="27.25" height="106.75"/></clipPath>
<clipPath id="bx56"><rect x="57.0" y="233.75" width="54.5" height="106.75"/></clipPath>
<clipPath id="bx115"><rect x="116.0" y="233.75" width="54.0" height="106.75"/></clipPath>
<clipPath id="bx174"><rect x="174.5" y="233.75" width="112" height="106.75"/></clipPath>
<clipPath id="bx290"><rect x="291.0" y="233.75" width="138.5" height="106.75"/></clipPath>
<g clip-path="url(#bx25)"><rect x="28.75" y="238" width="20" height="98" fill="url(#gsm)" opacity="0.40" filter="url(#gb2)"/><rect x="28.95" y="262.25" width="19.6" height="5.5" rx="2.75" fill="#95a8de" filter="url(#gb1)"/><rect x="28.95" y="271.75" width="19.6" height="5.5" rx="2.75" fill="#95a8de" filter="url(#gb1)"/><rect x="28.95" y="290.5" width="19.6" height="7" rx="3" fill="#243ba5" filter="url(#gb1)"/><rect x="28.95" y="316.5" width="19.6" height="6" rx="3" fill="#7f95d6" filter="url(#gb1)"/><rect x="27.55" y="239.20000000000002" width="22.4" height="10.200000000000001" rx="5.1000000000000005" fill="#081aaa" filter="url(#gb1)"/><rect x="29.65" y="240.8" width="18.2" height="7.000000000000001" rx="3.5000000000000004" fill="#000848" filter="url(#gb0)"/><rect x="30.75" y="242.8" width="16" height="3" rx="1.5" fill="#000028" filter="url(#gb0)"/></g>
<g clip-path="url(#bx56)"><rect x="60.75" y="238" width="20" height="84" fill="url(#gsm)" opacity="0.32" filter="url(#gb2)"/><rect x="60.95" y="262.5" width="19.6" height="5" rx="2.5" fill="#c3ceed" filter="url(#gb1)"/><rect x="60.95" y="272.0" width="19.6" height="5" rx="2.5" fill="#c3ceed" filter="url(#gb1)"/><rect x="60.95" y="291.5" width="19.6" height="6" rx="3" fill="#0e1c7d" filter="url(#gb1)"/><rect x="59.606" y="239.27200000000002" width="22.288" height="10.056000000000001" rx="5.0280000000000005" fill="#1226b0" filter="url(#gb1)"/><rect x="61.65" y="240.872" width="18.2" height="6.856000000000001" rx="3.4280000000000004" fill="#051058" filter="url(#gb0)"/></g>
<g clip-path="url(#bx56)"><rect x="88.0" y="238" width="20" height="87" fill="url(#gsm)" opacity="0.40" filter="url(#gb2)"/><rect x="88.2" y="262.25" width="19.6" height="5.5" rx="2.75" fill="#95a8de" filter="url(#gb1)"/><rect x="88.2" y="271.75" width="19.6" height="5.5" rx="2.75" fill="#95a8de" filter="url(#gb1)"/><rect x="88.2" y="291.0" width="19.6" height="8" rx="3" fill="#3751b5" filter="url(#gb1)"/><rect x="86.8" y="239.20000000000002" width="22.4" height="10.200000000000001" rx="5.1000000000000005" fill="#081aaa" filter="url(#gb1)"/><rect x="88.9" y="240.8" width="18.2" height="7.000000000000001" rx="3.5000000000000004" fill="#000848" filter="url(#gb0)"/><rect x="90.0" y="242.8" width="16" height="3" rx="1.5" fill="#000028" filter="url(#gb0)"/></g>
<g clip-path="url(#bx115)"><rect x="119.5" y="238" width="20" height="84" fill="url(#gsm)" opacity="0.44" filter="url(#gb2)"/><rect x="119.7" y="262.75" width="19.6" height="5.5" rx="2.75" fill="#9bade0" filter="url(#gb1)"/><rect x="119.7" y="271.85" width="19.6" height="5.5" rx="2.75" fill="#9bade0" filter="url(#gb1)"/><rect x="119.7" y="291.7" width="19.6" height="8" rx="3" fill="#3b55b8" filter="url(#gb1)"/><rect x="118.33500000000001" y="239.245" width="22.33" height="10.11" rx="5.055" fill="#0e21ae" filter="url(#gb1)"/><rect x="120.4" y="240.845" width="18.2" height="6.909999999999999" rx="3.4549999999999996" fill="#030d52" filter="url(#gb0)"/><rect x="121.5" y="242.8" width="16" height="3" rx="1.5" fill="#000028" filter="url(#gb0)"/></g>
<g clip-path="url(#bx115)"><rect x="147.5" y="238" width="20" height="90" fill="url(#gsm)" opacity="0.46" filter="url(#gb2)"/><rect x="147.7" y="262.25" width="19.6" height="5.5" rx="2.75" fill="#8da1db" filter="url(#gb1)"/><rect x="147.7" y="271.75" width="19.6" height="5.5" rx="2.75" fill="#8da1db" filter="url(#gb1)"/><rect x="147.7" y="291.5" width="19.6" height="7" rx="3" fill="#2e48b0" filter="url(#gb1)"/><rect x="146.3" y="239.20000000000002" width="22.4" height="10.200000000000001" rx="5.1000000000000005" fill="#081aaa" filter="url(#gb1)"/><rect x="148.4" y="240.8" width="18.2" height="7.000000000000001" rx="3.5000000000000004" fill="#000848" filter="url(#gb0)"/><rect x="149.5" y="242.8" width="16" height="3" rx="1.5" fill="#000028" filter="url(#gb0)"/></g>
<g clip-path="url(#bx174)"><rect x="178.75" y="238" width="20" height="98" fill="url(#gsm)" opacity="0.60" filter="url(#gb2)"/><linearGradient id="smg188" x1="0" y1="0" x2="0" y2="1"><stop offset="0" stop-color="#859ad8"/><stop offset="0.5" stop-color="#9bade0"/><stop offset="1" stop-color="#ced7f0" stop-opacity="0"/></linearGradient><rect x="179.05" y="300" width="19.4" height="32" fill="url(#smg188)" filter="url(#gb2)"/><rect x="178.95" y="262.0" width="19.6" height="6" rx="3" fill="#92a6dd" filter="url(#gb1)"/><rect x="178.95" y="271.75" width="19.6" height="5.5" rx="2.75" fill="#9bade0" filter="url(#gb1)"/><rect x="178.95" y="291.75" width="19.6" height="8.5" rx="3" fill="#2b44ac" filter="url(#gb1)"/><rect x="177.55" y="239.20000000000002" width="22.4" height="10.200000000000001" rx="5.1000000000000005" fill="#081aaa" filter="url(#gb1)"/><rect x="179.65" y="240.8" width="18.2" height="7.000000000000001" rx="3.5000000000000004" fill="#000848" filter="url(#gb0)"/><rect x="180.75" y="242.8" width="16" height="3" rx="1.5" fill="#000028" filter="url(#gb0)"/></g>
<g clip-path="url(#bx174)"><rect x="206.5" y="238" width="20" height="96" fill="url(#gsm)" opacity="0.60" filter="url(#gb2)"/><linearGradient id="smg216" x1="0" y1="0" x2="0" y2="1"><stop offset="0" stop-color="#859ad8"/><stop offset="0.5" stop-color="#9bade0"/><stop offset="1" stop-color="#ced7f0" stop-opacity="0"/></linearGradient><rect x="206.8" y="299" width="19.4" height="31" fill="url(#smg216)" filter="url(#gb2)"/><rect x="206.7" y="262.0" width="19.6" height="15" rx="3" fill="#8a9fda" filter="url(#gb1)"/><rect x="206.7" y="291.25" width="19.6" height="7.5" rx="3" fill="#3f59ba" filter="url(#gb1)"/><rect x="205.38400000000001" y="239.30800000000002" width="22.232" height="9.984" rx="4.992" fill="#172cb2" filter="url(#gb1)"/><rect x="207.4" y="240.90800000000002" width="18.2" height="6.784" rx="3.392" fill="#071361" filter="url(#gb0)"/></g>
<g clip-path="url(#bx174)"><rect x="234.5" y="238" width="20" height="96" fill="url(#gsm)" opacity="0.56" filter="url(#gb2)"/><linearGradient id="smg244" x1="0" y1="0" x2="0" y2="1"><stop offset="0" stop-color="#778ed2"/><stop offset="0.5" stop-color="#90a4dc"/><stop offset="1" stop-color="#cad4ef" stop-opacity="0"/></linearGradient><rect x="234.8" y="299" width="19.4" height="33" fill="url(#smg244)" filter="url(#gb2)"/><rect x="234.7" y="262.5" width="19.6" height="14" rx="3" fill="#9bade0" filter="url(#gb1)"/><rect x="234.7" y="291.25" width="19.6" height="7.5" rx="3" fill="#4660bd" filter="url(#gb1)"/><rect x="233.524" y="239.488" width="21.951999999999998" height="9.624" rx="4.812" fill="#3049c0" filter="url(#gb1)"/><rect x="235.4" y="241.08800000000002" width="18.2" height="6.424" rx="3.212" fill="#13268a" filter="url(#gb0)"/></g>
<g clip-path="url(#bx174)"><rect x="263.0" y="238" width="20" height="90" fill="url(#gsm)" opacity="0.40" filter="url(#gb2)"/><rect x="263.2" y="263.75" width="19.6" height="4.5" rx="2.25" fill="#95a8de" filter="url(#gb1)"/><rect x="263.2" y="272.25" width="19.6" height="4.5" rx="2.25" fill="#95a8de" filter="url(#gb1)"/><rect x="263.2" y="292.25" width="19.6" height="5.5" rx="2.75" fill="#516bc2" filter="url(#gb1)"/><rect x="261.8" y="239.20000000000002" width="22.4" height="10.200000000000001" rx="5.1000000000000005" fill="#081aaa" filter="url(#gb1)"/><rect x="263.9" y="240.8" width="18.2" height="7.000000000000001" rx="3.5000000000000004" fill="#000848" filter="url(#gb0)"/><rect x="265.0" y="242.8" width="16" height="3" rx="1.5" fill="#000028" filter="url(#gb0)"/></g>
<g clip-path="url(#bx290)"><rect x="294.5" y="238" width="20" height="100" fill="url(#gsm)" opacity="0.80" filter="url(#gb2)"/><linearGradient id="smg304" x1="0" y1="0" x2="0" y2="1"><stop offset="0" stop-color="#4d67c0"/><stop offset="0.5" stop-color="#6b83ce"/><stop offset="1" stop-color="#bdc9eb" stop-opacity="0"/></linearGradient><rect x="294.8" y="305" width="19.4" height="29" fill="url(#smg304)" filter="url(#gb2)"/><rect x="294.7" y="264.5" width="19.6" height="13" rx="3" fill="#90a4dc" filter="url(#gb1)"/><rect x="294.7" y="293.5" width="19.6" height="9" rx="3" fill="#3b55b8" filter="url(#gb1)"/><rect x="294.7" y="300.0" width="19.6" height="4" rx="2.0" fill="#1f359f" filter="url(#gb1)"/><rect x="293.405" y="239.335" width="22.19" height="9.93" rx="4.965" fill="#1b30b4" filter="url(#gb1)"/><rect x="295.4" y="240.935" width="18.2" height="6.7299999999999995" rx="3.3649999999999998" fill="#091667" filter="url(#gb0)"/></g>
<g clip-path="url(#bx290)"><rect x="323.0" y="238" width="20" height="72" fill="url(#gsm)" opacity="0.22" filter="url(#gb2)"/><rect x="323.2" y="263.5" width="19.6" height="5" rx="2.5" fill="#d3dbf1" filter="url(#gb1)"/><rect x="323.2" y="272.5" width="19.6" height="5" rx="2.5" fill="#d3dbf1" filter="url(#gb1)"/><rect x="323.2" y="294.75" width="19.6" height="5.5" rx="2.75" fill="#8a9fda" filter="url(#gb1)"/><rect x="322.15" y="239.65" width="21.7" height="9.3" rx="4.65" fill="#4664cd" filter="url(#gb1)"/><rect x="323.9" y="241.25" width="18.2" height="6.1000000000000005" rx="3.0500000000000003" fill="#1e37af" filter="url(#gb0)"/></g>
<g clip-path="url(#bx290)"><rect x="351.25" y="238" width="20" height="99" fill="url(#gsm)" opacity="0.64" filter="url(#gb2)"/><linearGradient id="smg361" x1="0" y1="0" x2="0" y2="1"><stop offset="0" stop-color="#778ed2"/><stop offset="0.5" stop-color="#90a4dc"/><stop offset="1" stop-color="#cad4ef" stop-opacity="0"/></linearGradient><rect x="351.55" y="301" width="19.4" height="34" fill="url(#smg361)" filter="url(#gb2)"/><rect x="351.45" y="262.5" width="19.6" height="5" rx="2.5" fill="#92a6dd" filter="url(#gb1)"/><rect x="351.45" y="272.0" width="19.6" height="6" rx="3" fill="#8da1db" filter="url(#gb1)"/><rect x="351.45" y="293.25" width="19.6" height="7.5" rx="3" fill="#060e64" filter="url(#gb1)"/><rect x="350.05" y="239.20000000000002" width="22.4" height="10.200000000000001" rx="5.1000000000000005" fill="#081aaa" filter="url(#gb1)"/><rect x="352.15" y="240.8" width="18.2" height="7.000000000000001" rx="3.5000000000000004" fill="#000848" filter="url(#gb0)"/><rect x="353.25" y="242.8" width="16" height="3" rx="1.5" fill="#000028" filter="url(#gb0)"/></g>
<g clip-path="url(#bx290)"><rect x="378.75" y="238" width="20" height="100" fill="url(#gsm)" opacity="0.64" filter="url(#gb2)"/><linearGradient id="smg388" x1="0" y1="0" x2="0" y2="1"><stop offset="0" stop-color="#778ed2"/><stop offset="0.5" stop-color="#90a4dc"/><stop offset="1" stop-color="#cad4ef" stop-opacity="0"/></linearGradient><rect x="379.05" y="301" width="19.4" height="35" fill="url(#smg388)" filter="url(#gb2)"/><rect x="378.95" y="262.0" width="19.6" height="6" rx="3" fill="#7f95d6" filter="url(#gb1)"/><rect x="378.95" y="272.0" width="19.6" height="6" rx="3" fill="#7289d0" filter="url(#gb1)"/><rect x="378.95" y="293.25" width="19.6" height="7.5" rx="3" fill="#2b44ac" filter="url(#gb1)"/><rect x="377.55" y="239.20000000000002" width="22.4" height="10.200000000000001" rx="5.1000000000000005" fill="#081aaa" filter="url(#gb1)"/><rect x="379.65" y="240.8" width="18.2" height="7.000000000000001" rx="3.5000000000000004" fill="#000848" filter="url(#gb0)"/><rect x="380.75" y="242.8" width="16" height="3" rx="1.5" fill="#000028" filter="url(#gb0)"/></g>
<g clip-path="url(#bx290)"><rect x="407.0" y="238" width="20" height="92" fill="url(#gsm)" opacity="0.42" filter="url(#gb2)"/><rect x="407.2" y="262.5" width="19.6" height="5" rx="2.5" fill="#7289d0" filter="url(#gb1)"/><rect x="407.2" y="273.0" width="19.6" height="5" rx="2.5" fill="#5872c6" filter="url(#gb1)"/><rect x="407.2" y="294.25" width="19.6" height="6.5" rx="3" fill="#060e64" filter="url(#gb1)"/><rect x="405.8" y="239.20000000000002" width="22.4" height="10.200000000000001" rx="5.1000000000000005" fill="#081aaa" filter="url(#gb1)"/><rect x="407.9" y="240.8" width="18.2" height="7.000000000000001" rx="3.5000000000000004" fill="#000848" filter="url(#gb0)"/><rect x="409.0" y="242.8" width="16" height="3" rx="1.5" fill="#000028" filter="url(#gb0)"/></g>
<polygon points="58.6,317.6 52.6,320 58.6,322.4" fill="#111"/>
<polygon points="169.3,313.1 175.3,315.5 169.3,317.9" fill="#111"/>
<polygon points="226.2,314.6 232.2,317 226.2,319.4" fill="#111"/>
<polygon points="287.1,317.6 293.1,320 287.1,322.4" fill="#111"/>
<polygon points="343.2,314.6 349.2,317 343.2,319.4" fill="#111"/>
<polygon points="372.2,323.1 378.2,325.5 372.2,327.9" fill="#111"/>
<text x="60" y="323" font-size="8.4" text-anchor="start" font-weight="normal" font-style="normal" fill="#111" >M</text>
<text x="54.6" y="332.6" font-size="8.4" text-anchor="start" font-weight="normal" font-style="normal" fill="#111" >spike</text>
<text x="146.8" y="380.6" font-size="8.4" text-anchor="middle" fill="#111"><tspan font-style="italic">MYD88</tspan><tspan font-style="italic" font-size="4.9" dy="-3.4">L265P</tspan><tspan dy="3.4"> LPD</tspan></text>
<line x1="25.5" y1="386.2" x2="268" y2="386.2" stroke="#444" stroke-width="1.2" />
<defs><clipPath id="c0"><rect x="25.6" y="389.5" width="78.4" height="106.0"/></clipPath><clipPath id="c1"><rect x="107.5" y="389.5" width="78.75" height="106.0"/></clipPath><clipPath id="c2"><rect x="189.5" y="389.5" width="78.5" height="106.0"/></clipPath><radialGradient id="rbc" cx="0.5" cy="0.5" r="0.5"><stop offset="0" stop-color="#cdbfc3"/><stop offset="0.38" stop-color="#c0aab0"/><stop offset="0.7" stop-color="#94787f"/><stop offset="0.88" stop-color="#9a8088"/><stop offset="1" stop-color="#b8a8b0" stop-opacity="0.4"/></radialGradient><radialGradient id="rbc2" cx="0.5" cy="0.5" r="0.5"><stop offset="0" stop-color="#f4eeee"/><stop offset="0.3" stop-color="#d8bcc0"/><stop offset="0.6" stop-color="#a87a84"/><stop offset="0.85" stop-color="#6e4656"/><stop offset="1" stop-color="#806070" stop-opacity="0.5"/></radialGradient><radialGradient id="rbcB" cx="0.5" cy="0.5" r="0.5"><stop offset="0" stop-color="#b8969c"/><stop offset="0.6" stop-color="#ad8a90"/><stop offset="0.9" stop-color="#94707a"/><stop offset="1" stop-color="#a08088"/></radialGradient><radialGradient id="rbcB2" cx="0.5" cy="0.5" r="0.5"><stop offset="0" stop-color="#f6f0f0"/><stop offset="0.35" stop-color="#dcc4c8"/><stop offset="0.7" stop-color="#a47a84"/><stop offset="0.9" stop-color="#6a4454"/><stop offset="1" stop-color="#5a3a4c" stop-opacity="0.5"/></radialGradient><radialGradient id="ctr" cx="0.5" cy="0.5" r="0.5"><stop offset="0" stop-color="#f4e8e8"/><stop offset="0.4" stop-color="#d2a8ae"/><stop offset="1" stop-color="#9a6670"/></radialGradient><radialGradient id="ctrB" cx="0.5" cy="0.5" r="0.5"><stop offset="0" stop-color="#ecdedc"/><stop offset="0.5" stop-color="#c29296"/><stop offset="1" stop-color="#8e5e68"/></radialGradient></defs>
<g clip-path="url(#c0)"><rect x="25.6" y="389.5" width="78.4" height="106.0" fill="#dbd9e2"/><circle cx="60.9" cy="449.1" r="2.60" fill="#c2a6a8" stroke="#967078" stroke-width="1.2" stroke-opacity="0.95"/><circle cx="62.0" cy="443.4" r="2.45" fill="#c2a6a8" stroke="#967078" stroke-width="1.2" stroke-opacity="0.95"/><circle cx="38.8" cy="443.8" r="2.56" fill="#c2a6a8" stroke="#967078" stroke-width="1.2" stroke-opacity="0.95"/><circle cx="88.9" cy="397.9" r="2.62" fill="#c2a6a8" stroke="#967078" stroke-width="1.2" stroke-opacity="0.95"/><circle cx="31.1" cy="476.6" r="2.22" fill="#c2a6a8" stroke="#967078" stroke-width="1.2" stroke-opacity="0.95"/><circle cx="27.1" cy="495.5" r="2.26" fill="#c2a6a8" stroke="#967078" stroke-width="1.2" stroke-opacity="0.95"/><circle cx="77.5" cy="455.2" r="2.30" fill="#c2a6a8" stroke="#967078" stroke-width="1.2" stroke-opacity="0.95"/><circle cx="58.0" cy="440.5" r="2.52" fill="#c2a6a8" stroke="#967078" stroke-width="1.2" stroke-opacity="0.95"/><circle cx="72.3" cy="409.0" r="2.49" fill="#c2a6a8" stroke="#967078" stroke-width="1.2" stroke-opacity="0.95"/><circle cx="26.3" cy="476.6" r="2.56" fill="#c2a6a8" stroke="#967078" stroke-width="1.2" stroke-opacity="0.95"/><circle cx="46.5" cy="497.2" r="2.51" fill="#c2a6a8" stroke="#967078" stroke-width="1.2" stroke-opacity="0.95"/><circle cx="92.8" cy="465.4" r="2.24" fill="#c2a6a8" stroke="#967078" stroke-width="1.2" stroke-opacity="0.95"/><circle cx="42.5" cy="419.3" r="2.41" fill="#c2a6a8" stroke="#967078" stroke-width="1.2" stroke-opacity="0.95"/><circle cx="45.9" cy="422.0" r="2.54" fill="#c2a6a8" stroke="#967078" stroke-width="1.2" stroke-opacity="0.95"/><circle cx="66.8" cy="442.1" r="2.60" fill="#c2a6a8" stroke="#967078" stroke-width="1.2" stroke-opacity="0.95"/><circle cx="92.7" cy="396.0" r="2.56" fill="#c2a6a8" stroke="#967078" stroke-width="1.2" stroke-opacity="0.95"/><circle cx="82.0" cy="433.7" r="2.58" fill="#c2a6a8" stroke="#967078" stroke-width="1.2" stroke-opacity="0.95"/><circle cx="40.0" cy="461.7" r="2.58" fill="#c2a6a8" stroke="#967078" stroke-width="1.2" stroke-opacity="0.95"/><circle cx="49.2" cy="389.2" r="2.45" fill="#c2a6a8" stroke="#967078" stroke-width="1.2" stroke-opacity="0.95"/><circle cx="99.6" cy="402.3" r="2.52" fill="#c2a6a8" stroke="#967078" stroke-width="1.2" stroke-opacity="0.95"/><circle cx="24.5" cy="438.6" r="2.46" fill="#c2a6a8" stroke="#967078" stroke-width="1.2" stroke-opacity="0.95"/><circle cx="79.8" cy="408.2" r="2.39" fill="#c2a6a8" stroke="#967078" stroke-width="1.2" stroke-opacity="0.95"/><circle cx="104.8" cy="472.1" r="2.33" fill="#c2a6a8" stroke="#967078" stroke-width="1.2" stroke-opacity="0.95"/><circle cx="55.2" cy="430.9" r="2.45" fill="#c2a6a8" stroke="#967078" stroke-width="1.2" stroke-opacity="0.95"/><circle cx="23.6" cy="482.6" r="2.53" fill="#c2a6a8" stroke="#967078" stroke-width="1.2" stroke-opacity="0.95"/><circle cx="72.4" cy="497.3" r="2.50" fill="#c2a6a8" stroke="#967078" stroke-width="1.2" stroke-opacity="0.95"/><circle cx="23.1" cy="498.6" r="2.43" fill="#c2a6a8" stroke="#967078" stroke-width="1.2" stroke-opacity="0.95"/><circle cx="55.4" cy="395.7" r="2.36" fill="#c2a6a8" stroke="#967078" stroke-width="1.2" stroke-opacity="0.95"/><circle cx="24.7" cy="443.4" r="2.43" fill="#c2a6a8" stroke="#967078" stroke-width="1.2" stroke-opacity="0.95"/><circle cx="60.9" cy="493.0" r="2.55" fill="#c2a6a8" stroke="#967078" stroke-width="1.2" stroke-opacity="0.95"/><circle cx="70.9" cy="482.8" r="2.55" fill="#c2a6a8" stroke="#967078" stroke-width="1.2" stroke-opacity="0.95"/><circle cx="29.4" cy="480.6" r="2.67" fill="#c2a6a8" stroke="#967078" stroke-width="1.2" stroke-opacity="0.95"/><circle cx="69.2" cy="463.1" r="2.27" fill="#c2a6a8" stroke="#967078" stroke-width="1.2" stroke-opacity="0.95"/><circle cx="63.4" cy="396.1" r="2.57" fill="#c2a6a8" stroke="#967078" stroke-width="1.2" stroke-opacity="0.95"/><circle cx="82.4" cy="456.4" r="2.50" fill="#c2a6a8" stroke="#967078" stroke-width="1.2" stroke-opacity="0.95"/><circle cx="72.2" cy="502.2" r="2.27" fill="#c2a6a8" stroke="#967078" stroke-width="1.2" stroke-opacity="0.95"/><circle cx="47.8" cy="406.8" r="2.57" fill="#c2a6a8" stroke="#967078" stroke-width="1.2" stroke-opacity="0.95"/><circle cx="29.3" cy="412.6" r="2.46" fill="#c2a6a8" stroke="#967078" stroke-width="1.2" stroke-opacity="0.95"/><circle cx="93.8" cy="455.1" r="2.68" fill="#c2a6a8" stroke="#967078" stroke-width="1.2" stroke-opacity="0.95"/><circle cx="44.1" cy="392.6" r="2.21" fill="#c2a6a8" stroke="#967078" stroke-width="1.2" stroke-opacity="0.95"/><circle cx="59.5" cy="394.2" r="2.41" fill="#c2a6a8" stroke="#967078" stroke-width="1.2" stroke-opacity="0.95"/><circle cx="97.0" cy="495.4" r="2.46" fill="#c2a6a8" stroke="#967078" stroke-width="1.2" stroke-opacity="0.95"/><circle cx="42.9" cy="441.7" r="2.25" fill="#c2a6a8" stroke="#967078" stroke-width="1.2" stroke-opacity="0.95"/><circle cx="29.8" cy="394.9" r="2.48" fill="#c2a6a8" stroke="#967078" stroke-width="1.2" stroke-opacity="0.95"/><circle cx="84.3" cy="401.7" r="2.44" fill="#c2a6a8" stroke="#967078" stroke-width="1.2" stroke-opacity="0.95"/><circle cx="30.2" cy="457.8" r="2.66" fill="#c2a6a8" stroke="#967078" stroke-width="1.2" stroke-opacity="0.95"/><circle cx="26.1" cy="453.6" r="2.68" fill="#c2a6a8" stroke="#967078" stroke-width="1.2" stroke-opacity="0.95"/><circle cx="74.2" cy="488.8" r="2.54" fill="#c2a6a8" stroke="#967078" stroke-width="1.2" stroke-opacity="0.95"/><circle cx="58.0" cy="452.3" r="2.55" fill="#c2a6a8" stroke="#967078" stroke-width="1.2" stroke-opacity="0.95"/><circle cx="66.3" cy="470.4" r="2.68" fill="#c2a6a8" stroke="#967078" stroke-width="1.2" stroke-opacity="0.95"/><circle cx="100.3" cy="442.3" r="2.50" fill="#c2a6a8" stroke="#967078" stroke-width="1.2" stroke-opacity="0.95"/><circle cx="70.2" cy="493.5" r="2.35" fill="#c2a6a8" stroke="#967078" stroke-width="1.2" stroke-opacity="0.95"/><circle cx="90.0" cy="488.1" r="2.27" fill="#c2a6a8" stroke="#967078" stroke-width="1.2" stroke-opacity="0.95"/><circle cx="75.2" cy="441.8" r="2.62" fill="#c2a6a8" stroke="#967078" stroke-width="1.2" stroke-opacity="0.95"/><circle cx="27.0" cy="465.4" r="2.41" fill="#c2a6a8" stroke="#967078" stroke-width="1.2" stroke-opacity="0.95"/><circle cx="49.1" cy="474.6" r="2.25" fill="#c2a6a8" stroke="#967078" stroke-width="1.2" stroke-opacity="0.95"/><circle cx="68.7" cy="411.4" r="2.32" fill="#c2a6a8" stroke="#967078" stroke-width="1.2" stroke-opacity="0.95"/><circle cx="38.3" cy="388.7" r="2.36" fill="#c2a6a8" stroke="#967078" stroke-width="1.2" stroke-opacity="0.95"/><circle cx="99.9" cy="470.9" r="2.66" fill="#c2a6a8" stroke="#967078" stroke-width="1.2" stroke-opacity="0.95"/><circle cx="105.7" cy="405.0" r="2.65" fill="#c2a6a8" stroke="#967078" stroke-width="1.2" stroke-opacity="0.95"/><circle cx="97.2" cy="430.2" r="2.31" fill="#c2a6a8" stroke="#967078" stroke-width="1.2" stroke-opacity="0.95"/><circle cx="39.8" cy="485.1" r="2.29" fill="#c2a6a8" stroke="#967078" stroke-width="1.2" stroke-opacity="0.95"/><circle cx="67.7" cy="500.1" r="2.49" fill="#c2a6a8" stroke="#967078" stroke-width="1.2" stroke-opacity="0.95"/><circle cx="76.5" cy="466.4" r="2.69" fill="#c2a6a8" stroke="#967078" stroke-width="1.2" stroke-opacity="0.95"/><circle cx="71.4" cy="469.8" r="2.56" fill="#c2a6a8" stroke="#967078" stroke-width="1.2" stroke-opacity="0.95"/><circle cx="88.8" cy="422.7" r="2.48" fill="#c2a6a8" stroke="#967078" stroke-width="1.2" stroke-opacity="0.95"/><circle cx="66.2" cy="415.3" r="2.65" fill="#c2a6a8" stroke="#967078" stroke-width="1.2" stroke-opacity="0.95"/><circle cx="89.9" cy="402.7" r="2.63" fill="#c2a6a8" stroke="#967078" stroke-width="1.2" stroke-opacity="0.95"/><circle cx="59.9" cy="484.3" r="2.65" fill="#c2a6a8" stroke="#967078" stroke-width="1.2" stroke-opacity="0.95"/><circle cx="80.4" cy="470.9" r="2.30" fill="#c2a6a8" stroke="#967078" stroke-width="1.2" stroke-opacity="0.95"/><circle cx="73.5" cy="390.6" r="2.62" fill="#c2a6a8" stroke="#967078" stroke-width="1.2" stroke-opacity="0.95"/><circle cx="66.1" cy="431.6" r="2.66" fill="#c2a6a8" stroke="#967078" stroke-width="1.2" stroke-opacity="0.95"/><circle cx="102.4" cy="489.1" r="2.31" fill="#c2a6a8" stroke="#967078" stroke-width="1.2" stroke-opacity="0.95"/><circle cx="92.7" cy="430.4" r="2.39" fill="#c2a6a8" stroke="#967078" stroke-width="1.2" stroke-opacity="0.95"/><circle cx="32.5" cy="433.6" r="2.23" fill="#c2a6a8" stroke="#967078" stroke-width="1.2" stroke-opacity="0.95"/><circle cx="66.7" cy="399.7" r="2.41" fill="#c2a6a8" stroke="#967078" stroke-width="1.2" stroke-opacity="0.95"/><circle cx="26.0" cy="486.1" r="2.33" fill="#c2a6a8" stroke="#967078" stroke-width="1.2" stroke-opacity="0.95"/><circle cx="30.4" cy="462.5" r="2.59" fill="#c2a6a8" stroke="#967078" stroke-width="1.2" stroke-opacity="0.95"/><circle cx="82.7" cy="464.7" r="2.60" fill="#c2a6a8" stroke="#967078" stroke-width="1.2" stroke-opacity="0.95"/><circle cx="99.6" cy="411.5" r="2.44" fill="#c2a6a8" stroke="#967078" stroke-width="1.2" stroke-opacity="0.95"/><circle cx="92.6" cy="469.6" r="2.40" fill="#c2a6a8" stroke="#967078" stroke-width="1.2" stroke-opacity="0.95"/><circle cx="58.3" cy="474.4" r="2.50" fill="#c2a6a8" stroke="#967078" stroke-width="1.2" stroke-opacity="0.95"/><circle cx="66.8" cy="489.9" r="2.57" fill="#c2a6a8" stroke="#967078" stroke-width="1.2" stroke-opacity="0.95"/><circle cx="100.4" cy="484.5" r="2.44" fill="#c2a6a8" stroke="#967078" stroke-width="1.2" stroke-opacity="0.95"/><circle cx="33.1" cy="443.1" r="2.45" fill="#c2a6a8" stroke="#967078" stroke-width="1.2" stroke-opacity="0.95"/><circle cx="22.1" cy="477.0" r="2.51" fill="#c2a6a8" stroke="#967078" stroke-width="1.2" stroke-opacity="0.95"/><circle cx="39.2" cy="400.1" r="2.30" fill="#c2a6a8" stroke="#967078" stroke-width="1.2" stroke-opacity="0.95"/><circle cx="29.5" cy="438.3" r="2.44" fill="#c2a6a8" stroke="#967078" stroke-width="1.2" stroke-opacity="0.95"/><circle cx="40.4" cy="423.4" r="2.47" fill="#c2a6a8" stroke="#967078" stroke-width="1.2" stroke-opacity="0.95"/><circle cx="29.5" cy="491.9" r="2.41" fill="#c2a6a8" stroke="#967078" stroke-width="1.2" stroke-opacity="0.95"/><circle cx="83.9" cy="411.0" r="2.23" fill="#c2a6a8" stroke="#967078" stroke-width="1.2" stroke-opacity="0.95"/><circle cx="39.3" cy="451.8" r="2.34" fill="#c2a6a8" stroke="#967078" stroke-width="1.2" stroke-opacity="0.95"/><circle cx="26.3" cy="434.4" r="2.67" fill="#c2a6a8" stroke="#967078" stroke-width="1.2" stroke-opacity="0.95"/><circle cx="29.4" cy="425.1" r="2.51" fill="#c2a6a8" stroke="#967078" stroke-width="1.2" stroke-opacity="0.95"/><circle cx="78.5" cy="424.7" r="2.46" fill="#c2a6a8" stroke="#967078" stroke-width="1.2" stroke-opacity="0.95"/><circle cx="106.0" cy="458.1" r="2.57" fill="#c2a6a8" stroke="#967078" stroke-width="1.2" stroke-opacity="0.95"/><circle cx="86.4" cy="495.3" r="2.46" fill="#c2a6a8" stroke="#967078" stroke-width="1.2" stroke-opacity="0.95"/><circle cx="86.2" cy="467.4" r="2.48" fill="#c2a6a8" stroke="#967078" stroke-width="1.2" stroke-opacity="0.95"/><circle cx="24.5" cy="415.9" r="2.52" fill="#c2a6a8" stroke="#967078" stroke-width="1.2" stroke-opacity="0.95"/><circle cx="25.3" cy="393.5" r="2.31" fill="#c2a6a8" stroke="#967078" stroke-width="1.2" stroke-opacity="0.95"/><circle cx="86.2" cy="392.5" r="2.26" fill="#c2a6a8" stroke="#967078" stroke-width="1.2" stroke-opacity="0.95"/><circle cx="49.3" cy="445.8" r="2.24" fill="#c2a6a8" stroke="#967078" stroke-width="1.2" stroke-opacity="0.95"/><circle cx="45.8" cy="489.7" r="2.56" fill="#c2a6a8" stroke="#967078" stroke-width="1.2" stroke-opacity="0.95"/><circle cx="71.9" cy="457.1" r="2.58" fill="#c2a6a8" stroke="#967078" stroke-width="1.2" stroke-opacity="0.95"/><circle cx="80.0" cy="393.3" r="2.28" fill="#c2a6a8" stroke="#967078" stroke-width="1.2" stroke-opacity="0.95"/><circle cx="21.3" cy="435.2" r="2.33" fill="#c2a6a8" stroke="#967078" stroke-width="1.2" stroke-opacity="0.95"/><circle cx="70.2" cy="418.1" r="2.61" fill="#c2a6a8" stroke="#967078" stroke-width="1.2" stroke-opacity="0.95"/><circle cx="35.5" cy="493.1" r="2.27" fill="#c2a6a8" stroke="#967078" stroke-width="1.2" stroke-opacity="0.95"/><circle cx="87.4" cy="414.1" r="2.69" fill="#c2a6a8" stroke="#967078" stroke-width="1.2" stroke-opacity="0.95"/><circle cx="88.2" cy="456.2" r="2.61" fill="#c2a6a8" stroke="#967078" stroke-width="1.2" stroke-opacity="0.95"/><circle cx="46.0" cy="462.9" r="2.43" fill="#c2a6a8" stroke="#967078" stroke-width="1.2" stroke-opacity="0.95"/><circle cx="34.8" cy="479.4" r="2.62" fill="#c2a6a8" stroke="#967078" stroke-width="1.2" stroke-opacity="0.95"/><circle cx="96.5" cy="463.1" r="2.39" fill="#c2a6a8" stroke="#967078" stroke-width="1.2" stroke-opacity="0.95"/><circle cx="89.7" cy="436.7" r="2.33" fill="#c2a6a8" stroke="#967078" stroke-width="1.2" stroke-opacity="0.95"/><circle cx="96.7" cy="398.1" r="2.63" fill="#c2a6a8" stroke="#967078" stroke-width="1.2" stroke-opacity="0.95"/><circle cx="91.5" cy="388.5" r="2.53" fill="#c2a6a8" stroke="#967078" stroke-width="1.2" stroke-opacity="0.95"/><circle cx="80.2" cy="418.2" r="2.36" fill="#c2a6a8" stroke="#967078" stroke-width="1.2" stroke-opacity="0.95"/><circle cx="105.4" cy="437.9" r="2.50" fill="#c2a6a8" stroke="#967078" stroke-width="1.2" stroke-opacity="0.95"/><circle cx="32.9" cy="422.4" r="2.44" fill="#c2a6a8" stroke="#967078" stroke-width="1.2" stroke-opacity="0.95"/><circle cx="55.5" cy="408.9" r="2.30" fill="#c2a6a8" stroke="#967078" stroke-width="1.2" stroke-opacity="0.95"/><circle cx="89.3" cy="447.0" r="2.46" fill="#c2a6a8" stroke="#967078" stroke-width="1.2" stroke-opacity="0.95"/><circle cx="96.2" cy="418.5" r="2.27" fill="#c2a6a8" stroke="#967078" stroke-width="1.2" stroke-opacity="0.95"/><circle cx="36.0" cy="439.8" r="2.31" fill="#c2a6a8" stroke="#967078" stroke-width="1.2" stroke-opacity="0.95"/><circle cx="78.8" cy="475.3" r="2.41" fill="#c2a6a8" stroke="#967078" stroke-width="1.2" stroke-opacity="0.95"/><circle cx="46.1" cy="399.1" r="2.44" fill="#c2a6a8" stroke="#967078" stroke-width="1.2" stroke-opacity="0.95"/><circle cx="90.0" cy="479.2" r="2.54" fill="#c2a6a8" stroke="#967078" stroke-width="1.2" stroke-opacity="0.95"/><circle cx="58.2" cy="403.6" r="2.46" fill="#c2a6a8" stroke="#967078" stroke-width="1.2" stroke-opacity="0.95"/><circle cx="105.3" cy="428.8" r="2.47" fill="#c2a6a8" stroke="#967078" stroke-width="1.2" stroke-opacity="0.95"/><circle cx="86.4" cy="491.1" r="2.36" fill="#c2a6a8" stroke="#967078" stroke-width="1.2" stroke-opacity="0.95"/><circle cx="40.2" cy="456.1" r="2.43" fill="#c2a6a8" stroke="#967078" stroke-width="1.2" stroke-opacity="0.95"/><circle cx="62.0" cy="434.5" r="2.39" fill="#c2a6a8" stroke="#967078" stroke-width="1.2" stroke-opacity="0.95"/><circle cx="93.9" cy="440.8" r="2.63" fill="#c2a6a8" stroke="#967078" stroke-width="1.2" stroke-opacity="0.95"/><circle cx="34.4" cy="469.1" r="2.61" fill="#c2a6a8" stroke="#967078" stroke-width="1.2" stroke-opacity="0.95"/><circle cx="38.3" cy="410.0" r="2.47" fill="#c2a6a8" stroke="#967078" stroke-width="1.2" stroke-opacity="0.95"/><circle cx="53.6" cy="454.8" r="2.43" fill="#c2a6a8" stroke="#967078" stroke-width="1.2" stroke-opacity="0.95"/><circle cx="62.1" cy="466.2" r="2.28" fill="#c2a6a8" stroke="#967078" stroke-width="1.2" stroke-opacity="0.95"/><circle cx="61.3" cy="388.7" r="2.46" fill="#c2a6a8" stroke="#967078" stroke-width="1.2" stroke-opacity="0.95"/><circle cx="47.5" cy="428.9" r="2.38" fill="#c2a6a8" stroke="#967078" stroke-width="1.2" stroke-opacity="0.95"/><circle cx="22.3" cy="447.8" r="2.26" fill="#c2a6a8" stroke="#967078" stroke-width="1.2" stroke-opacity="0.95"/><circle cx="31.2" cy="403.0" r="2.39" fill="#c2a6a8" stroke="#967078" stroke-width="1.2" stroke-opacity="0.95"/><circle cx="72.4" cy="397.4" r="2.50" fill="#c2a6a8" stroke="#967078" stroke-width="1.2" stroke-opacity="0.95"/><circle cx="19.5" cy="416.5" r="2.28" fill="#c2a6a8" stroke="#967078" stroke-width="1.2" stroke-opacity="0.95"/><circle cx="80.2" cy="461.2" r="2.62" fill="#c2a6a8" stroke="#967078" stroke-width="1.2" stroke-opacity="0.95"/><circle cx="98.0" cy="447.8" r="2.57" fill="#c2a6a8" stroke="#967078" stroke-width="1.2" stroke-opacity="0.95"/><circle cx="92.4" cy="409.2" r="2.44" fill="#c2a6a8" stroke="#967078" stroke-width="1.2" stroke-opacity="0.95"/><circle cx="63.2" cy="500.7" r="2.22" fill="#c2a6a8" stroke="#967078" stroke-width="1.2" stroke-opacity="0.95"/><circle cx="58.6" cy="499.5" r="2.58" fill="#c2a6a8" stroke="#967078" stroke-width="1.2" stroke-opacity="0.95"/><circle cx="55.8" cy="502.8" r="2.57" fill="#c2a6a8" stroke="#967078" stroke-width="1.2" stroke-opacity="0.95"/><circle cx="74.0" cy="461.3" r="2.53" fill="#c2a6a8" stroke="#967078" stroke-width="1.2" stroke-opacity="0.95"/><circle cx="57.1" cy="418.5" r="2.24" fill="#c2a6a8" stroke="#967078" stroke-width="1.2" stroke-opacity="0.95"/><circle cx="51.3" cy="458.9" r="2.62" fill="#c2a6a8" stroke="#967078" stroke-width="1.2" stroke-opacity="0.95"/><circle cx="45.4" cy="458.1" r="2.48" fill="#c2a6a8" stroke="#967078" stroke-width="1.2" stroke-opacity="0.95"/><circle cx="35.2" cy="483.8" r="2.38" fill="#c2a6a8" stroke="#967078" stroke-width="1.2" stroke-opacity="0.95"/><circle cx="39.4" cy="405.8" r="2.27" fill="#c2a6a8" stroke="#967078" stroke-width="1.2" stroke-opacity="0.95"/><circle cx="102.0" cy="387.6" r="2.58" fill="#c2a6a8" stroke="#967078" stroke-width="1.2" stroke-opacity="0.95"/><circle cx="30.3" cy="486.7" r="2.39" fill="#c2a6a8" stroke="#967078" stroke-width="1.2" stroke-opacity="0.95"/><circle cx="57.7" cy="422.9" r="2.59" fill="#c2a6a8" stroke="#967078" stroke-width="1.2" stroke-opacity="0.95"/><circle cx="99.4" cy="452.4" r="2.33" fill="#c2a6a8" stroke="#967078" stroke-width="1.2" stroke-opacity="0.95"/><circle cx="39.9" cy="415.7" r="2.59" fill="#c2a6a8" stroke="#967078" stroke-width="1.2" stroke-opacity="0.95"/><circle cx="102.8" cy="417.6" r="2.27" fill="#c2a6a8" stroke="#967078" stroke-width="1.2" stroke-opacity="0.95"/><circle cx="96.0" cy="424.3" r="2.45" fill="#c2a6a8" stroke="#967078" stroke-width="1.2" stroke-opacity="0.95"/><circle cx="33.8" cy="459.8" r="2.45" fill="#c2a6a8" stroke="#967078" stroke-width="1.2" stroke-opacity="0.95"/><circle cx="58.1" cy="456.7" r="2.66" fill="#c2a6a8" stroke="#967078" stroke-width="1.2" stroke-opacity="0.95"/><circle cx="55.3" cy="489.7" r="2.35" fill="#c2a6a8" stroke="#967078" stroke-width="1.2" stroke-opacity="0.95"/><circle cx="90.1" cy="452.1" r="2.55" fill="#c2a6a8" stroke="#967078" stroke-width="1.2" stroke-opacity="0.95"/></g>
<g clip-path="url(#c1)"><rect x="107.5" y="389.5" width="78.75" height="106.0" fill="#e0dee6"/><circle cx="123.8" cy="489.3" r="2.27" fill="#c2a6a8" stroke="#967078" stroke-width="1.2" stroke-opacity="0.95"/><circle cx="121.0" cy="493.2" r="2.36" fill="#c2a6a8" stroke="#967078" stroke-width="1.2" stroke-opacity="0.95"/><circle cx="167.0" cy="487.3" r="2.32" fill="#c2a6a8" stroke="#967078" stroke-width="1.2" stroke-opacity="0.95"/><circle cx="145.1" cy="415.8" r="2.63" fill="#c2a6a8" stroke="#967078" stroke-width="1.2" stroke-opacity="0.95"/><circle cx="131.0" cy="488.1" r="2.45" fill="#c2a6a8" stroke="#967078" stroke-width="1.2" stroke-opacity="0.95"/><circle cx="115.5" cy="487.6" r="2.41" fill="#c2a6a8" stroke="#967078" stroke-width="1.2" stroke-opacity="0.95"/><circle cx="128.0" cy="429.0" r="2.40" fill="#c2a6a8" stroke="#967078" stroke-width="1.2" stroke-opacity="0.95"/><circle cx="130.3" cy="466.6" r="2.64" fill="#c2a6a8" stroke="#967078" stroke-width="1.2" stroke-opacity="0.95"/><circle cx="111.5" cy="391.4" r="2.33" fill="#c2a6a8" stroke="#967078" stroke-width="1.2" stroke-opacity="0.95"/><circle cx="136.4" cy="420.2" r="2.59" fill="#c2a6a8" stroke="#967078" stroke-width="1.2" stroke-opacity="0.95"/><circle cx="178.9" cy="458.2" r="2.55" fill="#c2a6a8" stroke="#967078" stroke-width="1.2" stroke-opacity="0.95"/><circle cx="145.7" cy="411.0" r="2.43" fill="#c2a6a8" stroke="#967078" stroke-width="1.2" stroke-opacity="0.95"/><circle cx="139.5" cy="433.2" r="2.39" fill="#c2a6a8" stroke="#967078" stroke-width="1.2" stroke-opacity="0.95"/><circle cx="133.6" cy="463.5" r="2.42" fill="#c2a6a8" stroke="#967078" stroke-width="1.2" stroke-opacity="0.95"/><circle cx="108.7" cy="402.4" r="2.43" fill="#c2a6a8" stroke="#967078" stroke-width="1.2" stroke-opacity="0.95"/><circle cx="117.9" cy="408.7" r="2.36" fill="#c2a6a8" stroke="#967078" stroke-width="1.2" stroke-opacity="0.95"/><circle cx="130.7" cy="470.8" r="2.51" fill="#c2a6a8" stroke="#967078" stroke-width="1.2" stroke-opacity="0.95"/><circle cx="138.1" cy="413.8" r="2.41" fill="#c2a6a8" stroke="#967078" stroke-width="1.2" stroke-opacity="0.95"/><circle cx="159.3" cy="447.8" r="2.36" fill="#c2a6a8" stroke="#967078" stroke-width="1.2" stroke-opacity="0.95"/><circle cx="151.9" cy="478.9" r="2.58" fill="#c2a6a8" stroke="#967078" stroke-width="1.2" stroke-opacity="0.95"/><circle cx="133.1" cy="425.6" r="2.43" fill="#c2a6a8" stroke="#967078" stroke-width="1.2" stroke-opacity="0.95"/><circle cx="162.3" cy="493.5" r="2.44" fill="#c2a6a8" stroke="#967078" stroke-width="1.2" stroke-opacity="0.95"/><circle cx="118.7" cy="455.9" r="2.63" fill="#c2a6a8" stroke="#967078" stroke-width="1.2" stroke-opacity="0.95"/><circle cx="152.2" cy="428.1" r="2.43" fill="#c2a6a8" stroke="#967078" stroke-width="1.2" stroke-opacity="0.95"/><circle cx="149.9" cy="424.1" r="2.39" fill="#c2a6a8" stroke="#967078" stroke-width="1.2" stroke-opacity="0.95"/><circle cx="173.2" cy="484.9" r="2.64" fill="#c2a6a8" stroke="#967078" stroke-width="1.2" stroke-opacity="0.95"/><circle cx="175.8" cy="443.9" r="2.68" fill="#c2a6a8" stroke="#967078" stroke-width="1.2" stroke-opacity="0.95"/><circle cx="108.8" cy="455.9" r="2.59" fill="#c2a6a8" stroke="#967078" stroke-width="1.2" stroke-opacity="0.95"/><circle cx="166.7" cy="463.8" r="2.40" fill="#c2a6a8" stroke="#967078" stroke-width="1.2" stroke-opacity="0.95"/><circle cx="133.0" cy="430.5" r="2.53" fill="#c2a6a8" stroke="#967078" stroke-width="1.2" stroke-opacity="0.95"/><circle cx="174.1" cy="449.9" r="2.57" fill="#c2a6a8" stroke="#967078" stroke-width="1.2" stroke-opacity="0.95"/><circle cx="164.0" cy="456.0" r="2.35" fill="#c2a6a8" stroke="#967078" stroke-width="1.2" stroke-opacity="0.95"/><circle cx="171.8" cy="401.3" r="2.56" fill="#c2a6a8" stroke="#967078" stroke-width="1.2" stroke-opacity="0.95"/><circle cx="160.9" cy="412.9" r="2.67" fill="#c2a6a8" stroke="#967078" stroke-width="1.2" stroke-opacity="0.95"/><circle cx="182.3" cy="417.0" r="2.52" fill="#c2a6a8" stroke="#967078" stroke-width="1.2" stroke-opacity="0.95"/><circle cx="187.3" cy="392.9" r="2.53" fill="#c2a6a8" stroke="#967078" stroke-width="1.2" stroke-opacity="0.95"/><circle cx="186.6" cy="416.8" r="2.42" fill="#c2a6a8" stroke="#967078" stroke-width="1.2" stroke-opacity="0.95"/><circle cx="107.7" cy="447.2" r="2.52" fill="#c2a6a8" stroke="#967078" stroke-width="1.2" stroke-opacity="0.95"/><circle cx="174.9" cy="418.7" r="2.32" fill="#c2a6a8" stroke="#967078" stroke-width="1.2" stroke-opacity="0.95"/><circle cx="156.6" cy="471.7" r="2.58" fill="#c2a6a8" stroke="#967078" stroke-width="1.2" stroke-opacity="0.95"/><circle cx="123.3" cy="427.3" r="2.47" fill="#c2a6a8" stroke="#967078" stroke-width="1.2" stroke-opacity="0.95"/><circle cx="141.3" cy="404.2" r="2.68" fill="#c2a6a8" stroke="#967078" stroke-width="1.2" stroke-opacity="0.95"/><circle cx="127.9" cy="450.1" r="2.37" fill="#c2a6a8" stroke="#967078" stroke-width="1.2" stroke-opacity="0.95"/><circle cx="172.5" cy="489.3" r="2.55" fill="#c2a6a8" stroke="#967078" stroke-width="1.2" stroke-opacity="0.95"/><circle cx="135.9" cy="488.3" r="2.22" fill="#c2a6a8" stroke="#967078" stroke-width="1.2" stroke-opacity="0.95"/><circle cx="105.8" cy="424.5" r="2.41" fill="#c2a6a8" stroke="#967078" stroke-width="1.2" stroke-opacity="0.95"/><circle cx="144.1" cy="433.0" r="2.58" fill="#c2a6a8" stroke="#967078" stroke-width="1.2" stroke-opacity="0.95"/><circle cx="120.3" cy="451.6" r="2.33" fill="#c2a6a8" stroke="#967078" stroke-width="1.2" stroke-opacity="0.95"/><circle cx="183.7" cy="389.5" r="2.50" fill="#c2a6a8" stroke="#967078" stroke-width="1.2" stroke-opacity="0.95"/><circle cx="142.2" cy="479.2" r="2.32" fill="#c2a6a8" stroke="#967078" stroke-width="1.2" stroke-opacity="0.95"/><circle cx="120.1" cy="390.4" r="2.40" fill="#c2a6a8" stroke="#967078" stroke-width="1.2" stroke-opacity="0.95"/><circle cx="128.3" cy="462.7" r="2.69" fill="#c2a6a8" stroke="#967078" stroke-width="1.2" stroke-opacity="0.95"/><circle cx="185.6" cy="397.2" r="2.30" fill="#c2a6a8" stroke="#967078" stroke-width="1.2" stroke-opacity="0.95"/><circle cx="137.8" cy="465.3" r="2.65" fill="#c2a6a8" stroke="#967078" stroke-width="1.2" stroke-opacity="0.95"/><circle cx="127.4" cy="414.5" r="2.24" fill="#c2a6a8" stroke="#967078" stroke-width="1.2" stroke-opacity="0.95"/><circle cx="160.6" cy="475.8" r="2.49" fill="#c2a6a8" stroke="#967078" stroke-width="1.2" stroke-opacity="0.95"/><circle cx="183.0" cy="440.5" r="2.60" fill="#c2a6a8" stroke="#967078" stroke-width="1.2" stroke-opacity="0.95"/><circle cx="165.4" cy="443.2" r="2.61" fill="#c2a6a8" stroke="#967078" stroke-width="1.2" stroke-opacity="0.95"/><circle cx="120.2" cy="399.1" r="2.40" fill="#c2a6a8" stroke="#967078" stroke-width="1.2" stroke-opacity="0.95"/><circle cx="120.4" cy="459.7" r="2.49" fill="#c2a6a8" stroke="#967078" stroke-width="1.2" stroke-opacity="0.95"/><circle cx="175.0" cy="471.3" r="2.55" fill="#c2a6a8" stroke="#967078" stroke-width="1.2" stroke-opacity="0.95"/><circle cx="176.7" cy="439.0" r="2.58" fill="#c2a6a8" stroke="#967078" stroke-width="1.2" stroke-opacity="0.95"/><circle cx="111.3" cy="430.4" r="2.57" fill="#c2a6a8" stroke="#967078" stroke-width="1.2" stroke-opacity="0.95"/><circle cx="106.3" cy="467.8" r="2.49" fill="#c2a6a8" stroke="#967078" stroke-width="1.2" stroke-opacity="0.95"/><circle cx="140.6" cy="494.1" r="2.33" fill="#c2a6a8" stroke="#967078" stroke-width="1.2" stroke-opacity="0.95"/><circle cx="115.5" cy="468.8" r="2.55" fill="#c2a6a8" stroke="#967078" stroke-width="1.2" stroke-opacity="0.95"/><circle cx="141.6" cy="438.9" r="2.48" fill="#c2a6a8" stroke="#967078" stroke-width="1.2" stroke-opacity="0.95"/><circle cx="109.0" cy="488.7" r="2.47" fill="#c2a6a8" stroke="#967078" stroke-width="1.2" stroke-opacity="0.95"/><circle cx="187.7" cy="468.7" r="2.68" fill="#c2a6a8" stroke="#967078" stroke-width="1.2" stroke-opacity="0.95"/><circle cx="110.9" cy="483.2" r="2.28" fill="#c2a6a8" stroke="#967078" stroke-width="1.2" stroke-opacity="0.95"/><circle cx="126.2" cy="476.3" r="2.58" fill="#c2a6a8" stroke="#967078" stroke-width="1.2" stroke-opacity="0.95"/><circle cx="191.6" cy="391.8" r="2.37" fill="#c2a6a8" stroke="#967078" stroke-width="1.2" stroke-opacity="0.95"/><circle cx="184.0" cy="436.0" r="2.56" fill="#c2a6a8" stroke="#967078" stroke-width="1.2" stroke-opacity="0.95"/><circle cx="109.3" cy="464.0" r="2.67" fill="#c2a6a8" stroke="#967078" stroke-width="1.2" stroke-opacity="0.95"/><circle cx="180.4" cy="475.1" r="2.34" fill="#c2a6a8" stroke="#967078" stroke-width="1.2" stroke-opacity="0.95"/><circle cx="146.0" cy="437.0" r="2.48" fill="#c2a6a8" stroke="#967078" stroke-width="1.2" stroke-opacity="0.95"/><circle cx="139.7" cy="469.4" r="2.46" fill="#c2a6a8" stroke="#967078" stroke-width="1.2" stroke-opacity="0.95"/><circle cx="156.6" cy="486.7" r="2.45" fill="#c2a6a8" stroke="#967078" stroke-width="1.2" stroke-opacity="0.95"/><circle cx="171.4" cy="443.0" r="2.29" fill="#c2a6a8" stroke="#967078" stroke-width="1.2" stroke-opacity="0.95"/><circle cx="185.8" cy="449.1" r="2.51" fill="#c2a6a8" stroke="#967078" stroke-width="1.2" stroke-opacity="0.95"/><circle cx="191.1" cy="396.2" r="2.64" fill="#c2a6a8" stroke="#967078" stroke-width="1.2" stroke-opacity="0.95"/><circle cx="162.7" cy="468.5" r="2.53" fill="#c2a6a8" stroke="#967078" stroke-width="1.2" stroke-opacity="0.95"/><circle cx="190.6" cy="400.7" r="2.35" fill="#c2a6a8" stroke="#967078" stroke-width="1.2" stroke-opacity="0.95"/><circle cx="128.6" cy="402.2" r="2.60" fill="#c2a6a8" stroke="#967078" stroke-width="1.2" stroke-opacity="0.95"/><circle cx="136.8" cy="437.2" r="2.41" fill="#c2a6a8" stroke="#967078" stroke-width="1.2" stroke-opacity="0.95"/><circle cx="183.6" cy="478.0" r="2.28" fill="#c2a6a8" stroke="#967078" stroke-width="1.2" stroke-opacity="0.95"/><circle cx="124.2" cy="440.0" r="2.50" fill="#c2a6a8" stroke="#967078" stroke-width="1.2" stroke-opacity="0.95"/><circle cx="181.9" cy="394.5" r="2.43" fill="#c2a6a8" stroke="#967078" stroke-width="1.2" stroke-opacity="0.95"/><circle cx="135.4" cy="469.4" r="2.46" fill="#c2a6a8" stroke="#967078" stroke-width="1.2" stroke-opacity="0.95"/><circle cx="168.4" cy="404.2" r="2.69" fill="#c2a6a8" stroke="#967078" stroke-width="1.2" stroke-opacity="0.95"/><circle cx="149.8" cy="439.9" r="2.48" fill="#c2a6a8" stroke="#967078" stroke-width="1.2" stroke-opacity="0.95"/><circle cx="179.8" cy="492.0" r="2.67" fill="#c2a6a8" stroke="#967078" stroke-width="1.2" stroke-opacity="0.95"/><circle cx="165.1" cy="472.0" r="2.38" fill="#c2a6a8" stroke="#967078" stroke-width="1.2" stroke-opacity="0.95"/><circle cx="138.6" cy="498.5" r="2.57" fill="#c2a6a8" stroke="#967078" stroke-width="1.2" stroke-opacity="0.95"/><circle cx="185.8" cy="494.9" r="2.25" fill="#c2a6a8" stroke="#967078" stroke-width="1.2" stroke-opacity="0.95"/><circle cx="148.4" cy="451.8" r="2.35" fill="#c2a6a8" stroke="#967078" stroke-width="1.2" stroke-opacity="0.95"/><circle cx="184.0" cy="458.3" r="2.54" fill="#c2a6a8" stroke="#967078" stroke-width="1.2" stroke-opacity="0.95"/><circle cx="135.8" cy="479.1" r="2.54" fill="#c2a6a8" stroke="#967078" stroke-width="1.2" stroke-opacity="0.95"/><circle cx="136.7" cy="492.5" r="2.61" fill="#c2a6a8" stroke="#967078" stroke-width="1.2" stroke-opacity="0.95"/><circle cx="164.1" cy="460.6" r="2.39" fill="#c2a6a8" stroke="#967078" stroke-width="1.2" stroke-opacity="0.95"/><circle cx="105.1" cy="453.6" r="2.34" fill="#c2a6a8" stroke="#967078" stroke-width="1.2" stroke-opacity="0.95"/><circle cx="140.6" cy="410.4" r="2.38" fill="#c2a6a8" stroke="#967078" stroke-width="1.2" stroke-opacity="0.95"/><circle cx="139.1" cy="454.8" r="2.47" fill="#c2a6a8" stroke="#967078" stroke-width="1.2" stroke-opacity="0.95"/><circle cx="153.2" cy="474.8" r="2.22" fill="#c2a6a8" stroke="#967078" stroke-width="1.2" stroke-opacity="0.95"/><circle cx="191.5" cy="471.9" r="2.39" fill="#c2a6a8" stroke="#967078" stroke-width="1.2" stroke-opacity="0.95"/><circle cx="146.0" cy="459.4" r="2.53" fill="#c2a6a8" stroke="#967078" stroke-width="1.2" stroke-opacity="0.95"/><circle cx="180.3" cy="430.9" r="2.28" fill="#c2a6a8" stroke="#967078" stroke-width="1.2" stroke-opacity="0.95"/><circle cx="142.8" cy="393.0" r="2.36" fill="#c2a6a8" stroke="#967078" stroke-width="1.2" stroke-opacity="0.95"/><circle cx="184.0" cy="412.3" r="2.63" fill="#c2a6a8" stroke="#967078" stroke-width="1.2" stroke-opacity="0.95"/><circle cx="136.4" cy="397.4" r="2.66" fill="#c2a6a8" stroke="#967078" stroke-width="1.2" stroke-opacity="0.95"/><circle cx="170.7" cy="458.1" r="2.33" fill="#c2a6a8" stroke="#967078" stroke-width="1.2" stroke-opacity="0.95"/><circle cx="131.3" cy="479.3" r="2.30" fill="#c2a6a8" stroke="#967078" stroke-width="1.2" stroke-opacity="0.95"/><circle cx="127.2" cy="424.3" r="2.27" fill="#c2a6a8" stroke="#967078" stroke-width="1.2" stroke-opacity="0.95"/><circle cx="184.7" cy="426.7" r="2.25" fill="#c2a6a8" stroke="#967078" stroke-width="1.2" stroke-opacity="0.95"/><circle cx="132.4" cy="483.8" r="2.59" fill="#c2a6a8" stroke="#967078" stroke-width="1.2" stroke-opacity="0.95"/><circle cx="138.0" cy="484.0" r="2.56" fill="#c2a6a8" stroke="#967078" stroke-width="1.2" stroke-opacity="0.95"/><circle cx="113.0" cy="441.3" r="2.34" fill="#c2a6a8" stroke="#967078" stroke-width="1.2" stroke-opacity="0.95"/><circle cx="112.9" cy="387.2" r="2.44" fill="#c2a6a8" stroke="#967078" stroke-width="1.2" stroke-opacity="0.95"/><circle cx="104.5" cy="457.8" r="2.54" fill="#c2a6a8" stroke="#967078" stroke-width="1.2" stroke-opacity="0.95"/><circle cx="186.2" cy="487.6" r="2.22" fill="#c2a6a8" stroke="#967078" stroke-width="1.2" stroke-opacity="0.95"/><circle cx="114.0" cy="421.2" r="2.60" fill="#c2a6a8" stroke="#967078" stroke-width="1.2" stroke-opacity="0.95"/><circle cx="152.8" cy="483.2" r="2.62" fill="#c2a6a8" stroke="#967078" stroke-width="1.2" stroke-opacity="0.95"/><circle cx="156.0" cy="400.8" r="2.31" fill="#c2a6a8" stroke="#967078" stroke-width="1.2" stroke-opacity="0.95"/><circle cx="162.5" cy="427.5" r="2.55" fill="#c2a6a8" stroke="#967078" stroke-width="1.2" stroke-opacity="0.95"/><circle cx="165.0" cy="419.5" r="2.55" fill="#c2a6a8" stroke="#967078" stroke-width="1.2" stroke-opacity="0.95"/><circle cx="118.2" cy="472.5" r="2.37" fill="#c2a6a8" stroke="#967078" stroke-width="1.2" stroke-opacity="0.95"/><circle cx="138.7" cy="450.2" r="2.63" fill="#c2a6a8" stroke="#967078" stroke-width="1.2" stroke-opacity="0.95"/><circle cx="117.1" cy="433.0" r="2.31" fill="#c2a6a8" stroke="#967078" stroke-width="1.2" stroke-opacity="0.95"/><circle cx="147.5" cy="480.8" r="2.44" fill="#c2a6a8" stroke="#967078" stroke-width="1.2" stroke-opacity="0.95"/><circle cx="169.9" cy="420.4" r="2.36" fill="#c2a6a8" stroke="#967078" stroke-width="1.2" stroke-opacity="0.95"/><circle cx="154.4" cy="462.9" r="2.42" fill="#c2a6a8" stroke="#967078" stroke-width="1.2" stroke-opacity="0.95"/><circle cx="160.6" cy="485.6" r="2.60" fill="#c2a6a8" stroke="#967078" stroke-width="1.2" stroke-opacity="0.95"/><circle cx="118.5" cy="447.3" r="2.48" fill="#c2a6a8" stroke="#967078" stroke-width="1.2" stroke-opacity="0.95"/><circle cx="156.9" cy="405.7" r="2.50" fill="#c2a6a8" stroke="#967078" stroke-width="1.2" stroke-opacity="0.95"/><circle cx="152.0" cy="467.2" r="2.68" fill="#c2a6a8" stroke="#967078" stroke-width="1.2" stroke-opacity="0.95"/><circle cx="147.6" cy="485.2" r="2.32" fill="#c2a6a8" stroke="#967078" stroke-width="1.2" stroke-opacity="0.95"/><circle cx="122.1" cy="434.0" r="2.32" fill="#c2a6a8" stroke="#967078" stroke-width="1.2" stroke-opacity="0.95"/><circle cx="143.5" cy="448.9" r="2.51" fill="#c2a6a8" stroke="#967078" stroke-width="1.2" stroke-opacity="0.95"/><circle cx="182.5" cy="403.1" r="2.28" fill="#c2a6a8" stroke="#967078" stroke-width="1.2" stroke-opacity="0.95"/><circle cx="178.6" cy="468.0" r="2.67" fill="#c2a6a8" stroke="#967078" stroke-width="1.2" stroke-opacity="0.95"/><circle cx="192.4" cy="404.7" r="2.37" fill="#c2a6a8" stroke="#967078" stroke-width="1.2" stroke-opacity="0.95"/><circle cx="149.1" cy="491.7" r="2.42" fill="#c2a6a8" stroke="#967078" stroke-width="1.2" stroke-opacity="0.95"/><circle cx="112.5" cy="445.4" r="2.42" fill="#c2a6a8" stroke="#967078" stroke-width="1.2" stroke-opacity="0.95"/><circle cx="134.8" cy="453.6" r="2.61" fill="#c2a6a8" stroke="#967078" stroke-width="1.2" stroke-opacity="0.95"/><circle cx="190.1" cy="413.7" r="2.65" fill="#c2a6a8" stroke="#967078" stroke-width="1.2" stroke-opacity="0.95"/><circle cx="158.4" cy="457.2" r="2.53" fill="#c2a6a8" stroke="#967078" stroke-width="1.2" stroke-opacity="0.95"/><circle cx="151.6" cy="399.1" r="2.29" fill="#c2a6a8" stroke="#967078" stroke-width="1.2" stroke-opacity="0.95"/><circle cx="113.4" cy="435.7" r="2.38" fill="#c2a6a8" stroke="#967078" stroke-width="1.2" stroke-opacity="0.95"/><circle cx="158.4" cy="394.3" r="2.55" fill="#c2a6a8" stroke="#967078" stroke-width="1.2" stroke-opacity="0.95"/><circle cx="127.1" cy="433.5" r="2.31" fill="#c2a6a8" stroke="#967078" stroke-width="1.2" stroke-opacity="0.95"/><circle cx="162.6" cy="436.6" r="2.63" fill="#c2a6a8" stroke="#967078" stroke-width="1.2" stroke-opacity="0.95"/><circle cx="169.9" cy="396.8" r="2.63" fill="#c2a6a8" stroke="#967078" stroke-width="1.2" stroke-opacity="0.95"/><circle cx="151.3" cy="487.4" r="2.32" fill="#c2a6a8" stroke="#967078" stroke-width="1.2" stroke-opacity="0.95"/><circle cx="131.2" cy="408.0" r="2.38" fill="#c2a6a8" stroke="#967078" stroke-width="1.2" stroke-opacity="0.95"/><circle cx="168.2" cy="495.9" r="2.32" fill="#c2a6a8" stroke="#967078" stroke-width="1.2" stroke-opacity="0.95"/><circle cx="192.1" cy="467.1" r="2.55" fill="#c2a6a8" stroke="#967078" stroke-width="1.2" stroke-opacity="0.95"/><circle cx="154.7" cy="390.8" r="2.23" fill="#c2a6a8" stroke="#967078" stroke-width="1.2" stroke-opacity="0.95"/><circle cx="132.0" cy="399.3" r="2.54" fill="#c2a6a8" stroke="#967078" stroke-width="1.2" stroke-opacity="0.95"/><circle cx="105.4" cy="399.6" r="2.24" fill="#c2a6a8" stroke="#967078" stroke-width="1.2" stroke-opacity="0.95"/><circle cx="104.2" cy="403.7" r="2.61" fill="#c2a6a8" stroke="#967078" stroke-width="1.2" stroke-opacity="0.95"/><circle cx="146.7" cy="473.8" r="2.47" fill="#c2a6a8" stroke="#967078" stroke-width="1.2" stroke-opacity="0.95"/><circle cx="174.7" cy="434.6" r="2.49" fill="#c2a6a8" stroke="#967078" stroke-width="1.2" stroke-opacity="0.95"/><circle cx="193.0" cy="416.7" r="2.26" fill="#c2a6a8" stroke="#967078" stroke-width="1.2" stroke-opacity="0.95"/><circle cx="144.3" cy="399.1" r="2.23" fill="#c2a6a8" stroke="#967078" stroke-width="1.2" stroke-opacity="0.95"/><circle cx="131.6" cy="495.7" r="2.38" fill="#c2a6a8" stroke="#967078" stroke-width="1.2" stroke-opacity="0.95"/></g>
<g clip-path="url(#c2)"><rect x="189.5" y="389.5" width="78.5" height="106.0" fill="#f1eaec"/><circle cx="187.6" cy="387.9" r="2.09" fill="url(#ctr)" stroke="#7c4852" stroke-width="1.05"/><circle cx="198.2" cy="387.7" r="2.08" fill="url(#ctr)" stroke="#7c4852" stroke-width="1.05"/><circle cx="204.1" cy="387.7" r="1.93" fill="url(#ctr)" stroke="#7c4852" stroke-width="1.05"/><circle cx="209.7" cy="387.5" r="2.11" fill="url(#ctr)" stroke="#7c4852" stroke-width="1.05"/><circle cx="215.6" cy="387.4" r="2.03" fill="url(#ctr)" stroke="#7c4852" stroke-width="1.05"/><circle cx="220.8" cy="387.3" r="1.97" fill="url(#ctr)" stroke="#7c4852" stroke-width="1.05"/><circle cx="226.2" cy="387.3" r="2.01" fill="url(#ctr)" stroke="#7c4852" stroke-width="1.05"/><circle cx="232.1" cy="387.1" r="1.91" fill="url(#ctr)" stroke="#7c4852" stroke-width="1.05"/><circle cx="237.9" cy="387.5" r="1.91" fill="url(#ctr)" stroke="#7c4852" stroke-width="1.05"/><circle cx="243.9" cy="387.8" r="2.16" fill="url(#ctr)" stroke="#7c4852" stroke-width="1.05"/><circle cx="249.3" cy="387.7" r="1.94" fill="url(#ctr)" stroke="#7c4852" stroke-width="1.05"/><circle cx="254.6" cy="387.4" r="2.11" fill="url(#ctr)" stroke="#7c4852" stroke-width="1.05"/><circle cx="260.3" cy="387.5" r="1.95" fill="url(#ctr)" stroke="#7c4852" stroke-width="1.05"/><circle cx="266.2" cy="387.9" r="1.88" fill="url(#ctr)" stroke="#7c4852" stroke-width="1.05"/><circle cx="189.8" cy="392.2" r="1.80" fill="url(#ctr)" stroke="#7c4852" stroke-width="1.05"/><circle cx="201.6" cy="392.1" r="2.19" fill="url(#ctr)" stroke="#7c4852" stroke-width="1.05"/><circle cx="207.5" cy="392.7" r="2.10" fill="url(#ctr)" stroke="#7c4852" stroke-width="1.05"/><circle cx="212.9" cy="392.6" r="2.19" fill="url(#ctr)" stroke="#7c4852" stroke-width="1.05"/><circle cx="218.2" cy="392.4" r="2.04" fill="url(#ctr)" stroke="#7c4852" stroke-width="1.05"/><circle cx="224.4" cy="392.8" r="1.82" fill="url(#ctr)" stroke="#7c4852" stroke-width="1.05"/><circle cx="229.1" cy="392.1" r="1.87" fill="url(#ctr)" stroke="#7c4852" stroke-width="1.05"/><circle cx="235.1" cy="392.4" r="1.82" fill="url(#ctr)" stroke="#7c4852" stroke-width="1.05"/><circle cx="241.1" cy="392.4" r="2.04" fill="url(#ctr)" stroke="#7c4852" stroke-width="1.05"/><circle cx="245.9" cy="392.8" r="2.05" fill="url(#ctr)" stroke="#7c4852" stroke-width="1.05"/><circle cx="257.4" cy="392.5" r="2.18" fill="url(#ctr)" stroke="#7c4852" stroke-width="1.05"/><circle cx="263.2" cy="392.8" r="1.92" fill="url(#ctr)" stroke="#7c4852" stroke-width="1.05"/><circle cx="269.0" cy="392.4" r="1.89" fill="url(#ctr)" stroke="#7c4852" stroke-width="1.05"/><circle cx="187.2" cy="397.2" r="1.89" fill="url(#ctr)" stroke="#7c4852" stroke-width="1.05"/><circle cx="193.3" cy="396.9" r="1.86" fill="url(#ctr)" stroke="#7c4852" stroke-width="1.05"/><circle cx="198.7" cy="397.0" r="1.81" fill="url(#ctr)" stroke="#7c4852" stroke-width="1.05"/><circle cx="204.4" cy="396.7" r="2.00" fill="url(#ctr)" stroke="#7c4852" stroke-width="1.05"/><circle cx="210.1" cy="396.9" r="1.97" fill="url(#ctr)" stroke="#7c4852" stroke-width="1.05"/><circle cx="220.9" cy="397.7" r="1.95" fill="url(#ctr)" stroke="#7c4852" stroke-width="1.05"/><circle cx="226.3" cy="397.3" r="2.18" fill="url(#ctr)" stroke="#7c4852" stroke-width="1.05"/><circle cx="232.6" cy="397.4" r="1.93" fill="url(#ctr)" stroke="#7c4852" stroke-width="1.05"/><circle cx="237.5" cy="396.7" r="2.13" fill="url(#ctr)" stroke="#7c4852" stroke-width="1.05"/><circle cx="243.1" cy="396.9" r="2.01" fill="url(#ctr)" stroke="#7c4852" stroke-width="1.05"/><circle cx="254.7" cy="397.7" r="1.84" fill="url(#ctr)" stroke="#7c4852" stroke-width="1.05"/><circle cx="260.1" cy="397.5" r="1.81" fill="url(#ctr)" stroke="#7c4852" stroke-width="1.05"/><circle cx="266.0" cy="397.3" r="2.04" fill="url(#ctr)" stroke="#7c4852" stroke-width="1.05"/><circle cx="189.8" cy="402.1" r="2.15" fill="url(#ctr)" stroke="#7c4852" stroke-width="1.05"/><circle cx="196.2" cy="401.8" r="1.82" fill="url(#ctr)" stroke="#7c4852" stroke-width="1.05"/><circle cx="201.2" cy="402.0" r="2.08" fill="url(#ctr)" stroke="#7c4852" stroke-width="1.05"/><circle cx="206.8" cy="401.8" r="1.89" fill="url(#ctr)" stroke="#7c4852" stroke-width="1.05"/><circle cx="212.9" cy="401.6" r="2.07" fill="url(#ctr)" stroke="#7c4852" stroke-width="1.05"/><circle cx="218.0" cy="401.8" r="2.13" fill="url(#ctr)" stroke="#7c4852" stroke-width="1.05"/><circle cx="224.1" cy="402.5" r="2.09" fill="url(#ctr)" stroke="#7c4852" stroke-width="1.05"/><circle cx="229.6" cy="401.9" r="1.90" fill="url(#ctr)" stroke="#7c4852" stroke-width="1.05"/><circle cx="235.1" cy="401.6" r="1.86" fill="url(#ctr)" stroke="#7c4852" stroke-width="1.05"/><circle cx="240.6" cy="402.1" r="2.19" fill="url(#ctr)" stroke="#7c4852" stroke-width="1.05"/><circle cx="257.4" cy="401.9" r="2.17" fill="url(#ctr)" stroke="#7c4852" stroke-width="1.05"/><circle cx="263.2" cy="402.5" r="2.17" fill="url(#ctr)" stroke="#7c4852" stroke-width="1.05"/><circle cx="268.7" cy="402.0" r="2.02" fill="url(#ctr)" stroke="#7c4852" stroke-width="1.05"/><circle cx="187.6" cy="406.6" r="1.82" fill="url(#ctr)" stroke="#7c4852" stroke-width="1.05"/><circle cx="193.3" cy="406.5" r="1.95" fill="url(#ctr)" stroke="#7c4852" stroke-width="1.05"/><circle cx="198.2" cy="406.6" r="2.16" fill="url(#ctr)" stroke="#7c4852" stroke-width="1.05"/><circle cx="204.6" cy="407.0" r="1.83" fill="url(#ctr)" stroke="#7c4852" stroke-width="1.05"/><circle cx="210.2" cy="407.1" r="1.92" fill="url(#ctr)" stroke="#7c4852" stroke-width="1.05"/><circle cx="220.7" cy="406.6" r="1.82" fill="url(#ctr)" stroke="#7c4852" stroke-width="1.05"/><circle cx="237.8" cy="406.5" r="2.15" fill="url(#ctr)" stroke="#7c4852" stroke-width="1.05"/><circle cx="249.2" cy="407.3" r="1.94" fill="url(#ctr)" stroke="#7c4852" stroke-width="1.05"/><circle cx="260.1" cy="406.6" r="1.83" fill="url(#ctr)" stroke="#7c4852" stroke-width="1.05"/><circle cx="265.6" cy="407.0" r="1.94" fill="url(#ctr)" stroke="#7c4852" stroke-width="1.05"/><circle cx="190.0" cy="411.8" r="1.88" fill="url(#ctr)" stroke="#7c4852" stroke-width="1.05"/><circle cx="195.5" cy="411.8" r="1.97" fill="url(#ctr)" stroke="#7c4852" stroke-width="1.05"/><circle cx="201.4" cy="411.7" r="2.05" fill="url(#ctr)" stroke="#7c4852" stroke-width="1.05"/><circle cx="212.4" cy="411.6" r="2.06" fill="url(#ctr)" stroke="#7c4852" stroke-width="1.05"/><circle cx="224.0" cy="411.6" r="1.84" fill="url(#ctr)" stroke="#7c4852" stroke-width="1.05"/><circle cx="229.9" cy="411.4" r="2.01" fill="url(#ctr)" stroke="#7c4852" stroke-width="1.05"/><circle cx="235.3" cy="411.6" r="1.82" fill="url(#ctr)" stroke="#7c4852" stroke-width="1.05"/><circle cx="241.1" cy="411.3" r="1.98" fill="url(#ctr)" stroke="#7c4852" stroke-width="1.05"/><circle cx="246.1" cy="412.0" r="2.12" fill="url(#ctr)" stroke="#7c4852" stroke-width="1.05"/><circle cx="252.1" cy="412.2" r="1.90" fill="url(#ctr)" stroke="#7c4852" stroke-width="1.05"/><circle cx="257.4" cy="412.1" r="2.13" fill="url(#ctr)" stroke="#7c4852" stroke-width="1.05"/><circle cx="262.7" cy="412.2" r="1.90" fill="url(#ctr)" stroke="#7c4852" stroke-width="1.05"/><circle cx="269.1" cy="411.6" r="1.96" fill="url(#ctr)" stroke="#7c4852" stroke-width="1.05"/><circle cx="188.0" cy="417.0" r="2.12" fill="url(#ctr)" stroke="#7c4852" stroke-width="1.05"/><circle cx="193.5" cy="417.1" r="1.80" fill="url(#ctr)" stroke="#7c4852" stroke-width="1.05"/><circle cx="198.9" cy="417.1" r="2.02" fill="url(#ctr)" stroke="#7c4852" stroke-width="1.05"/><circle cx="204.2" cy="416.7" r="2.01" fill="url(#ctr)" stroke="#7c4852" stroke-width="1.05"/><circle cx="210.2" cy="416.2" r="2.09" fill="url(#ctr)" stroke="#7c4852" stroke-width="1.05"/><circle cx="215.3" cy="416.4" r="2.18" fill="url(#ctr)" stroke="#7c4852" stroke-width="1.05"/><circle cx="220.8" cy="416.5" r="2.08" fill="url(#ctr)" stroke="#7c4852" stroke-width="1.05"/><circle cx="227.2" cy="416.4" r="1.89" fill="url(#ctr)" stroke="#7c4852" stroke-width="1.05"/><circle cx="232.5" cy="416.3" r="1.88" fill="url(#ctr)" stroke="#7c4852" stroke-width="1.05"/><circle cx="237.6" cy="416.7" r="1.99" fill="url(#ctr)" stroke="#7c4852" stroke-width="1.05"/><circle cx="243.0" cy="416.1" r="1.91" fill="url(#ctr)" stroke="#7c4852" stroke-width="1.05"/><circle cx="254.5" cy="417.1" r="2.02" fill="url(#ctr)" stroke="#7c4852" stroke-width="1.05"/><circle cx="259.9" cy="416.8" r="1.84" fill="url(#ctr)" stroke="#7c4852" stroke-width="1.05"/><circle cx="265.9" cy="416.8" r="2.08" fill="url(#ctr)" stroke="#7c4852" stroke-width="1.05"/><circle cx="190.7" cy="421.4" r="1.97" fill="url(#ctr)" stroke="#7c4852" stroke-width="1.05"/><circle cx="195.8" cy="421.3" r="1.82" fill="url(#ctr)" stroke="#7c4852" stroke-width="1.05"/><circle cx="201.5" cy="421.6" r="1.85" fill="url(#ctr)" stroke="#7c4852" stroke-width="1.05"/><circle cx="207.4" cy="421.9" r="2.17" fill="url(#ctr)" stroke="#7c4852" stroke-width="1.05"/><circle cx="212.8" cy="421.1" r="2.14" fill="url(#ctr)" stroke="#7c4852" stroke-width="1.05"/><circle cx="223.6" cy="421.7" r="2.15" fill="url(#ctr)" stroke="#7c4852" stroke-width="1.05"/><circle cx="229.7" cy="421.9" r="1.96" fill="url(#ctr)" stroke="#7c4852" stroke-width="1.05"/><circle cx="240.2" cy="421.4" r="2.19" fill="url(#ctr)" stroke="#7c4852" stroke-width="1.05"/><circle cx="246.5" cy="421.5" r="1.87" fill="url(#ctr)" stroke="#7c4852" stroke-width="1.05"/><circle cx="251.8" cy="421.1" r="2.09" fill="url(#ctr)" stroke="#7c4852" stroke-width="1.05"/><circle cx="257.0" cy="421.2" r="2.18" fill="url(#ctr)" stroke="#7c4852" stroke-width="1.05"/><circle cx="268.3" cy="421.5" r="1.88" fill="url(#ctr)" stroke="#7c4852" stroke-width="1.05"/><circle cx="187.6" cy="426.6" r="1.80" fill="url(#ctr)" stroke="#7c4852" stroke-width="1.05"/><circle cx="192.7" cy="426.5" r="1.85" fill="url(#ctr)" stroke="#7c4852" stroke-width="1.05"/><circle cx="199.1" cy="426.4" r="1.83" fill="url(#ctr)" stroke="#7c4852" stroke-width="1.05"/><circle cx="204.7" cy="426.5" r="2.12" fill="url(#ctr)" stroke="#7c4852" stroke-width="1.05"/><circle cx="209.7" cy="426.6" r="2.04" fill="url(#ctr)" stroke="#7c4852" stroke-width="1.05"/><circle cx="215.5" cy="425.8" r="1.99" fill="url(#ctr)" stroke="#7c4852" stroke-width="1.05"/><circle cx="220.9" cy="426.4" r="1.85" fill="url(#ctr)" stroke="#7c4852" stroke-width="1.05"/><circle cx="226.7" cy="425.9" r="2.06" fill="url(#ctr)" stroke="#7c4852" stroke-width="1.05"/><circle cx="232.4" cy="426.5" r="1.85" fill="url(#ctr)" stroke="#7c4852" stroke-width="1.05"/><circle cx="238.2" cy="426.1" r="1.85" fill="url(#ctr)" stroke="#7c4852" stroke-width="1.05"/><circle cx="243.5" cy="426.6" r="2.04" fill="url(#ctr)" stroke="#7c4852" stroke-width="1.05"/><circle cx="249.5" cy="426.3" r="2.06" fill="url(#ctr)" stroke="#7c4852" stroke-width="1.05"/><circle cx="254.7" cy="426.2" r="2.12" fill="url(#ctr)" stroke="#7c4852" stroke-width="1.05"/><circle cx="259.8" cy="426.2" r="2.13" fill="url(#ctr)" stroke="#7c4852" stroke-width="1.05"/><circle cx="190.0" cy="430.8" r="1.85" fill="url(#ctr)" stroke="#7c4852" stroke-width="1.05"/><circle cx="196.0" cy="431.4" r="1.92" fill="url(#ctr)" stroke="#7c4852" stroke-width="1.05"/><circle cx="201.3" cy="431.0" r="1.86" fill="url(#ctr)" stroke="#7c4852" stroke-width="1.05"/><circle cx="206.8" cy="430.7" r="2.00" fill="url(#ctr)" stroke="#7c4852" stroke-width="1.05"/><circle cx="212.7" cy="430.8" r="1.81" fill="url(#ctr)" stroke="#7c4852" stroke-width="1.05"/><circle cx="218.7" cy="431.4" r="2.15" fill="url(#ctr)" stroke="#7c4852" stroke-width="1.05"/><circle cx="229.2" cy="431.1" r="2.07" fill="url(#ctr)" stroke="#7c4852" stroke-width="1.05"/><circle cx="234.7" cy="431.6" r="2.12" fill="url(#ctr)" stroke="#7c4852" stroke-width="1.05"/><circle cx="240.3" cy="431.4" r="2.00" fill="url(#ctr)" stroke="#7c4852" stroke-width="1.05"/><circle cx="245.8" cy="431.3" r="2.16" fill="url(#ctr)" stroke="#7c4852" stroke-width="1.05"/><circle cx="252.3" cy="431.4" r="2.13" fill="url(#ctr)" stroke="#7c4852" stroke-width="1.05"/><circle cx="257.0" cy="431.2" r="2.13" fill="url(#ctr)" stroke="#7c4852" stroke-width="1.05"/><circle cx="262.9" cy="431.6" r="2.12" fill="url(#ctr)" stroke="#7c4852" stroke-width="1.05"/><circle cx="268.8" cy="430.7" r="1.89" fill="url(#ctr)" stroke="#7c4852" stroke-width="1.05"/><circle cx="187.9" cy="436.1" r="1.94" fill="url(#ctr)" stroke="#7c4852" stroke-width="1.05"/><circle cx="193.3" cy="436.4" r="1.82" fill="url(#ctr)" stroke="#7c4852" stroke-width="1.05"/><circle cx="198.2" cy="436.0" r="2.11" fill="url(#ctr)" stroke="#7c4852" stroke-width="1.05"/><circle cx="204.3" cy="436.4" r="1.99" fill="url(#ctr)" stroke="#7c4852" stroke-width="1.05"/><circle cx="209.6" cy="436.0" r="2.19" fill="url(#ctr)" stroke="#7c4852" stroke-width="1.05"/><circle cx="215.2" cy="436.2" r="1.92" fill="url(#ctr)" stroke="#7c4852" stroke-width="1.05"/><circle cx="220.9" cy="435.9" r="1.97" fill="url(#ctr)" stroke="#7c4852" stroke-width="1.05"/><circle cx="226.9" cy="436.0" r="2.15" fill="url(#ctr)" stroke="#7c4852" stroke-width="1.05"/><circle cx="231.9" cy="435.7" r="2.19" fill="url(#ctr)" stroke="#7c4852" stroke-width="1.05"/><circle cx="237.9" cy="436.1" r="2.10" fill="url(#ctr)" stroke="#7c4852" stroke-width="1.05"/><circle cx="243.4" cy="435.7" r="2.15" fill="url(#ctr)" stroke="#7c4852" stroke-width="1.05"/><circle cx="249.2" cy="435.6" r="2.17" fill="url(#ctr)" stroke="#7c4852" stroke-width="1.05"/><circle cx="254.8" cy="436.1" r="1.91" fill="url(#ctr)" stroke="#7c4852" stroke-width="1.05"/><circle cx="260.4" cy="436.4" r="2.05" fill="url(#ctr)" stroke="#7c4852" stroke-width="1.05"/><circle cx="265.8" cy="436.1" r="1.83" fill="url(#ctr)" stroke="#7c4852" stroke-width="1.05"/><circle cx="190.2" cy="440.7" r="2.07" fill="url(#ctr)" stroke="#7c4852" stroke-width="1.05"/><circle cx="195.8" cy="440.7" r="2.18" fill="url(#ctr)" stroke="#7c4852" stroke-width="1.05"/><circle cx="201.8" cy="441.0" r="2.00" fill="url(#ctr)" stroke="#7c4852" stroke-width="1.05"/><circle cx="207.0" cy="441.0" r="1.86" fill="url(#ctr)" stroke="#7c4852" stroke-width="1.05"/><circle cx="212.5" cy="440.4" r="2.03" fill="url(#ctr)" stroke="#7c4852" stroke-width="1.05"/><circle cx="218.7" cy="440.6" r="1.83" fill="url(#ctr)" stroke="#7c4852" stroke-width="1.05"/><circle cx="223.5" cy="440.5" r="1.98" fill="url(#ctr)" stroke="#7c4852" stroke-width="1.05"/><circle cx="229.9" cy="440.4" r="1.83" fill="url(#ctr)" stroke="#7c4852" stroke-width="1.05"/><circle cx="235.4" cy="440.6" r="1.97" fill="url(#ctr)" stroke="#7c4852" stroke-width="1.05"/><circle cx="240.6" cy="440.8" r="2.13" fill="url(#ctr)" stroke="#7c4852" stroke-width="1.05"/><circle cx="246.1" cy="440.8" r="2.10" fill="url(#ctr)" stroke="#7c4852" stroke-width="1.05"/><circle cx="252.1" cy="440.4" r="2.14" fill="url(#ctr)" stroke="#7c4852" stroke-width="1.05"/><circle cx="257.8" cy="440.7" r="1.98" fill="url(#ctr)" stroke="#7c4852" stroke-width="1.05"/><circle cx="262.7" cy="440.4" r="1.98" fill="url(#ctr)" stroke="#7c4852" stroke-width="1.05"/><circle cx="268.8" cy="440.4" r="1.82" fill="url(#ctr)" stroke="#7c4852" stroke-width="1.05"/><circle cx="187.6" cy="445.5" r="2.12" fill="url(#ctr)" stroke="#7c4852" stroke-width="1.05"/><circle cx="198.6" cy="446.2" r="2.03" fill="url(#ctr)" stroke="#7c4852" stroke-width="1.05"/><circle cx="204.7" cy="446.1" r="1.96" fill="url(#ctr)" stroke="#7c4852" stroke-width="1.05"/><circle cx="209.5" cy="446.0" r="1.86" fill="url(#ctr)" stroke="#7c4852" stroke-width="1.05"/><circle cx="215.6" cy="445.3" r="1.98" fill="url(#ctr)" stroke="#7c4852" stroke-width="1.05"/><circle cx="221.0" cy="445.4" r="1.83" fill="url(#ctr)" stroke="#7c4852" stroke-width="1.05"/><circle cx="226.8" cy="446.1" r="1.85" fill="url(#ctr)" stroke="#7c4852" stroke-width="1.05"/><circle cx="232.6" cy="445.8" r="1.83" fill="url(#ctr)" stroke="#7c4852" stroke-width="1.05"/><circle cx="238.2" cy="445.9" r="1.97" fill="url(#ctr)" stroke="#7c4852" stroke-width="1.05"/><circle cx="243.5" cy="445.6" r="1.85" fill="url(#ctr)" stroke="#7c4852" stroke-width="1.05"/><circle cx="249.3" cy="445.9" r="2.13" fill="url(#ctr)" stroke="#7c4852" stroke-width="1.05"/><circle cx="255.0" cy="446.0" r="2.04" fill="url(#ctr)" stroke="#7c4852" stroke-width="1.05"/><circle cx="259.9" cy="445.2" r="2.15" fill="url(#ctr)" stroke="#7c4852" stroke-width="1.05"/><circle cx="266.4" cy="445.5" r="2.02" fill="url(#ctr)" stroke="#7c4852" stroke-width="1.05"/><circle cx="190.3" cy="450.6" r="1.86" fill="url(#ctr)" stroke="#7c4852" stroke-width="1.05"/><circle cx="196.2" cy="450.4" r="1.91" fill="url(#ctr)" stroke="#7c4852" stroke-width="1.05"/><circle cx="201.8" cy="450.0" r="2.14" fill="url(#ctr)" stroke="#7c4852" stroke-width="1.05"/><circle cx="206.7" cy="450.9" r="2.03" fill="url(#ctr)" stroke="#7c4852" stroke-width="1.05"/><circle cx="218.6" cy="450.6" r="2.06" fill="url(#ctr)" stroke="#7c4852" stroke-width="1.05"/><circle cx="223.8" cy="450.6" r="2.05" fill="url(#ctr)" stroke="#7c4852" stroke-width="1.05"/><circle cx="229.5" cy="450.3" r="1.82" fill="url(#ctr)" stroke="#7c4852" stroke-width="1.05"/><circle cx="234.7" cy="450.2" r="1.88" fill="url(#ctr)" stroke="#7c4852" stroke-width="1.05"/><circle cx="240.7" cy="450.6" r="1.97" fill="url(#ctr)" stroke="#7c4852" stroke-width="1.05"/><circle cx="252.2" cy="450.4" r="2.14" fill="url(#ctr)" stroke="#7c4852" stroke-width="1.05"/><circle cx="257.8" cy="451.0" r="2.18" fill="url(#ctr)" stroke="#7c4852" stroke-width="1.05"/><circle cx="263.4" cy="450.9" r="2.04" fill="url(#ctr)" stroke="#7c4852" stroke-width="1.05"/><circle cx="268.4" cy="450.2" r="1.90" fill="url(#ctr)" stroke="#7c4852" stroke-width="1.05"/><circle cx="187.2" cy="455.8" r="1.82" fill="url(#ctr)" stroke="#7c4852" stroke-width="1.05"/><circle cx="193.1" cy="455.0" r="2.02" fill="url(#ctr)" stroke="#7c4852" stroke-width="1.05"/><circle cx="198.4" cy="455.5" r="1.96" fill="url(#ctr)" stroke="#7c4852" stroke-width="1.05"/><circle cx="204.6" cy="455.3" r="2.17" fill="url(#ctr)" stroke="#7c4852" stroke-width="1.05"/><circle cx="209.9" cy="455.3" r="1.88" fill="url(#ctr)" stroke="#7c4852" stroke-width="1.05"/><circle cx="215.7" cy="455.6" r="1.88" fill="url(#ctr)" stroke="#7c4852" stroke-width="1.05"/><circle cx="221.2" cy="455.0" r="1.81" fill="url(#ctr)" stroke="#7c4852" stroke-width="1.05"/><circle cx="232.2" cy="454.9" r="1.81" fill="url(#ctr)" stroke="#7c4852" stroke-width="1.05"/><circle cx="243.9" cy="455.7" r="2.12" fill="url(#ctr)" stroke="#7c4852" stroke-width="1.05"/><circle cx="254.6" cy="455.2" r="2.15" fill="url(#ctr)" stroke="#7c4852" stroke-width="1.05"/><circle cx="260.4" cy="455.7" r="1.86" fill="url(#ctr)" stroke="#7c4852" stroke-width="1.05"/><circle cx="265.6" cy="455.0" r="1.81" fill="url(#ctr)" stroke="#7c4852" stroke-width="1.05"/><circle cx="195.6" cy="460.5" r="2.03" fill="url(#ctr)" stroke="#7c4852" stroke-width="1.05"/><circle cx="201.1" cy="459.9" r="1.90" fill="url(#ctr)" stroke="#7c4852" stroke-width="1.05"/><circle cx="207.4" cy="460.5" r="2.05" fill="url(#ctr)" stroke="#7c4852" stroke-width="1.05"/><circle cx="212.7" cy="460.1" r="2.16" fill="url(#ctr)" stroke="#7c4852" stroke-width="1.05"/><circle cx="218.6" cy="460.0" r="2.10" fill="url(#ctr)" stroke="#7c4852" stroke-width="1.05"/><circle cx="224.3" cy="460.3" r="1.91" fill="url(#ctr)" stroke="#7c4852" stroke-width="1.05"/><circle cx="229.9" cy="459.9" r="2.04" fill="url(#ctr)" stroke="#7c4852" stroke-width="1.05"/><circle cx="234.8" cy="460.5" r="1.92" fill="url(#ctr)" stroke="#7c4852" stroke-width="1.05"/><circle cx="240.5" cy="460.2" r="2.10" fill="url(#ctr)" stroke="#7c4852" stroke-width="1.05"/><circle cx="246.5" cy="459.9" r="1.90" fill="url(#ctr)" stroke="#7c4852" stroke-width="1.05"/><circle cx="252.3" cy="460.3" r="2.15" fill="url(#ctr)" stroke="#7c4852" stroke-width="1.05"/><circle cx="262.9" cy="460.2" r="2.07" fill="url(#ctr)" stroke="#7c4852" stroke-width="1.05"/><circle cx="268.8" cy="460.6" r="2.16" fill="url(#ctr)" stroke="#7c4852" stroke-width="1.05"/><circle cx="193.3" cy="464.9" r="1.94" fill="url(#ctr)" stroke="#7c4852" stroke-width="1.05"/><circle cx="198.3" cy="464.6" r="2.18" fill="url(#ctr)" stroke="#7c4852" stroke-width="1.05"/><circle cx="204.3" cy="465.0" r="2.03" fill="url(#ctr)" stroke="#7c4852" stroke-width="1.05"/><circle cx="209.7" cy="464.6" r="1.90" fill="url(#ctr)" stroke="#7c4852" stroke-width="1.05"/><circle cx="215.3" cy="465.1" r="2.06" fill="url(#ctr)" stroke="#7c4852" stroke-width="1.05"/><circle cx="220.9" cy="464.6" r="1.92" fill="url(#ctr)" stroke="#7c4852" stroke-width="1.05"/><circle cx="226.5" cy="464.7" r="1.85" fill="url(#ctr)" stroke="#7c4852" stroke-width="1.05"/><circle cx="237.4" cy="465.5" r="1.82" fill="url(#ctr)" stroke="#7c4852" stroke-width="1.05"/><circle cx="243.4" cy="465.1" r="2.04" fill="url(#ctr)" stroke="#7c4852" stroke-width="1.05"/><circle cx="255.0" cy="465.2" r="1.90" fill="url(#ctr)" stroke="#7c4852" stroke-width="1.05"/><circle cx="260.1" cy="465.3" r="1.84" fill="url(#ctr)" stroke="#7c4852" stroke-width="1.05"/><circle cx="266.2" cy="465.4" r="2.11" fill="url(#ctr)" stroke="#7c4852" stroke-width="1.05"/><circle cx="190.5" cy="470.1" r="1.86" fill="url(#ctr)" stroke="#7c4852" stroke-width="1.05"/><circle cx="195.9" cy="470.0" r="2.10" fill="url(#ctr)" stroke="#7c4852" stroke-width="1.05"/><circle cx="201.8" cy="470.3" r="1.91" fill="url(#ctr)" stroke="#7c4852" stroke-width="1.05"/><circle cx="212.8" cy="470.0" r="1.95" fill="url(#ctr)" stroke="#7c4852" stroke-width="1.05"/><circle cx="217.8" cy="469.9" r="2.17" fill="url(#ctr)" stroke="#7c4852" stroke-width="1.05"/><circle cx="224.3" cy="469.6" r="2.13" fill="url(#ctr)" stroke="#7c4852" stroke-width="1.05"/><circle cx="229.1" cy="470.2" r="2.13" fill="url(#ctr)" stroke="#7c4852" stroke-width="1.05"/><circle cx="235.3" cy="469.8" r="2.19" fill="url(#ctr)" stroke="#7c4852" stroke-width="1.05"/><circle cx="240.2" cy="469.7" r="2.04" fill="url(#ctr)" stroke="#7c4852" stroke-width="1.05"/><circle cx="246.7" cy="470.2" r="2.17" fill="url(#ctr)" stroke="#7c4852" stroke-width="1.05"/><circle cx="251.5" cy="470.2" r="2.05" fill="url(#ctr)" stroke="#7c4852" stroke-width="1.05"/><circle cx="257.1" cy="470.4" r="2.03" fill="url(#ctr)" stroke="#7c4852" stroke-width="1.05"/><circle cx="262.6" cy="469.9" r="1.93" fill="url(#ctr)" stroke="#7c4852" stroke-width="1.05"/><circle cx="268.3" cy="470.3" r="1.95" fill="url(#ctr)" stroke="#7c4852" stroke-width="1.05"/><circle cx="187.1" cy="474.7" r="2.03" fill="url(#ctr)" stroke="#7c4852" stroke-width="1.05"/><circle cx="193.3" cy="474.4" r="1.90" fill="url(#ctr)" stroke="#7c4852" stroke-width="1.05"/><circle cx="198.6" cy="474.8" r="2.06" fill="url(#ctr)" stroke="#7c4852" stroke-width="1.05"/><circle cx="204.4" cy="475.2" r="2.15" fill="url(#ctr)" stroke="#7c4852" stroke-width="1.05"/><circle cx="210.3" cy="475.1" r="2.09" fill="url(#ctr)" stroke="#7c4852" stroke-width="1.05"/><circle cx="215.2" cy="474.8" r="1.89" fill="url(#ctr)" stroke="#7c4852" stroke-width="1.05"/><circle cx="221.2" cy="474.6" r="1.81" fill="url(#ctr)" stroke="#7c4852" stroke-width="1.05"/><circle cx="226.5" cy="474.3" r="1.95" fill="url(#ctr)" stroke="#7c4852" stroke-width="1.05"/><circle cx="232.0" cy="475.0" r="1.97" fill="url(#ctr)" stroke="#7c4852" stroke-width="1.05"/><circle cx="237.4" cy="474.5" r="2.14" fill="url(#ctr)" stroke="#7c4852" stroke-width="1.05"/><circle cx="243.8" cy="475.2" r="2.02" fill="url(#ctr)" stroke="#7c4852" stroke-width="1.05"/><circle cx="248.7" cy="475.3" r="2.01" fill="url(#ctr)" stroke="#7c4852" stroke-width="1.05"/><circle cx="254.9" cy="474.8" r="2.04" fill="url(#ctr)" stroke="#7c4852" stroke-width="1.05"/><circle cx="260.6" cy="474.8" r="2.02" fill="url(#ctr)" stroke="#7c4852" stroke-width="1.05"/><circle cx="265.9" cy="475.0" r="2.07" fill="url(#ctr)" stroke="#7c4852" stroke-width="1.05"/><circle cx="190.4" cy="479.3" r="2.02" fill="url(#ctr)" stroke="#7c4852" stroke-width="1.05"/><circle cx="195.6" cy="479.4" r="2.02" fill="url(#ctr)" stroke="#7c4852" stroke-width="1.05"/><circle cx="202.0" cy="480.1" r="1.89" fill="url(#ctr)" stroke="#7c4852" stroke-width="1.05"/><circle cx="207.4" cy="480.0" r="1.85" fill="url(#ctr)" stroke="#7c4852" stroke-width="1.05"/><circle cx="212.3" cy="479.9" r="1.98" fill="url(#ctr)" stroke="#7c4852" stroke-width="1.05"/><circle cx="218.6" cy="479.2" r="2.15" fill="url(#ctr)" stroke="#7c4852" stroke-width="1.05"/><circle cx="229.5" cy="480.0" r="2.18" fill="url(#ctr)" stroke="#7c4852" stroke-width="1.05"/><circle cx="235.0" cy="479.8" r="1.92" fill="url(#ctr)" stroke="#7c4852" stroke-width="1.05"/><circle cx="240.9" cy="479.5" r="2.03" fill="url(#ctr)" stroke="#7c4852" stroke-width="1.05"/><circle cx="245.9" cy="480.0" r="2.01" fill="url(#ctr)" stroke="#7c4852" stroke-width="1.05"/><circle cx="252.2" cy="479.6" r="1.98" fill="url(#ctr)" stroke="#7c4852" stroke-width="1.05"/><circle cx="257.5" cy="479.8" r="1.87" fill="url(#ctr)" stroke="#7c4852" stroke-width="1.05"/><circle cx="262.7" cy="479.1" r="2.12" fill="url(#ctr)" stroke="#7c4852" stroke-width="1.05"/><circle cx="268.4" cy="479.4" r="1.83" fill="url(#ctr)" stroke="#7c4852" stroke-width="1.05"/><circle cx="187.4" cy="484.7" r="1.89" fill="url(#ctr)" stroke="#7c4852" stroke-width="1.05"/><circle cx="193.3" cy="484.0" r="1.91" fill="url(#ctr)" stroke="#7c4852" stroke-width="1.05"/><circle cx="198.8" cy="484.7" r="1.88" fill="url(#ctr)" stroke="#7c4852" stroke-width="1.05"/><circle cx="204.2" cy="484.3" r="1.88" fill="url(#ctr)" stroke="#7c4852" stroke-width="1.05"/><circle cx="215.1" cy="484.7" r="1.83" fill="url(#ctr)" stroke="#7c4852" stroke-width="1.05"/><circle cx="221.3" cy="484.6" r="2.01" fill="url(#ctr)" stroke="#7c4852" stroke-width="1.05"/><circle cx="227.2" cy="484.8" r="1.87" fill="url(#ctr)" stroke="#7c4852" stroke-width="1.05"/><circle cx="232.3" cy="484.0" r="2.06" fill="url(#ctr)" stroke="#7c4852" stroke-width="1.05"/><circle cx="238.0" cy="484.9" r="2.04" fill="url(#ctr)" stroke="#7c4852" stroke-width="1.05"/><circle cx="243.4" cy="484.0" r="2.05" fill="url(#ctr)" stroke="#7c4852" stroke-width="1.05"/><circle cx="249.2" cy="485.0" r="1.99" fill="url(#ctr)" stroke="#7c4852" stroke-width="1.05"/><circle cx="255.1" cy="484.8" r="2.04" fill="url(#ctr)" stroke="#7c4852" stroke-width="1.05"/><circle cx="260.3" cy="484.9" r="1.92" fill="url(#ctr)" stroke="#7c4852" stroke-width="1.05"/><circle cx="265.4" cy="484.3" r="1.99" fill="url(#ctr)" stroke="#7c4852" stroke-width="1.05"/><circle cx="190.8" cy="489.2" r="2.08" fill="url(#ctr)" stroke="#7c4852" stroke-width="1.05"/><circle cx="196.1" cy="488.9" r="1.89" fill="url(#ctr)" stroke="#7c4852" stroke-width="1.05"/><circle cx="201.4" cy="489.0" r="2.09" fill="url(#ctr)" stroke="#7c4852" stroke-width="1.05"/><circle cx="207.0" cy="489.6" r="2.03" fill="url(#ctr)" stroke="#7c4852" stroke-width="1.05"/><circle cx="213.2" cy="489.0" r="2.19" fill="url(#ctr)" stroke="#7c4852" stroke-width="1.05"/><circle cx="218.0" cy="488.9" r="2.05" fill="url(#ctr)" stroke="#7c4852" stroke-width="1.05"/><circle cx="224.3" cy="489.1" r="2.02" fill="url(#ctr)" stroke="#7c4852" stroke-width="1.05"/><circle cx="229.5" cy="489.1" r="2.11" fill="url(#ctr)" stroke="#7c4852" stroke-width="1.05"/><circle cx="234.7" cy="489.2" r="1.92" fill="url(#ctr)" stroke="#7c4852" stroke-width="1.05"/><circle cx="241.0" cy="489.6" r="1.95" fill="url(#ctr)" stroke="#7c4852" stroke-width="1.05"/><circle cx="246.4" cy="489.7" r="1.97" fill="url(#ctr)" stroke="#7c4852" stroke-width="1.05"/><circle cx="251.5" cy="489.0" r="2.09" fill="url(#ctr)" stroke="#7c4852" stroke-width="1.05"/><circle cx="257.8" cy="489.8" r="2.09" fill="url(#ctr)" stroke="#7c4852" stroke-width="1.05"/><circle cx="262.8" cy="489.4" r="1.87" fill="url(#ctr)" stroke="#7c4852" stroke-width="1.05"/><circle cx="268.8" cy="489.0" r="2.18" fill="url(#ctr)" stroke="#7c4852" stroke-width="1.05"/><circle cx="187.5" cy="494.0" r="2.19" fill="url(#ctr)" stroke="#7c4852" stroke-width="1.05"/><circle cx="193.0" cy="493.8" r="2.00" fill="url(#ctr)" stroke="#7c4852" stroke-width="1.05"/><circle cx="198.5" cy="493.9" r="2.20" fill="url(#ctr)" stroke="#7c4852" stroke-width="1.05"/><circle cx="204.4" cy="494.0" r="2.05" fill="url(#ctr)" stroke="#7c4852" stroke-width="1.05"/><circle cx="210.3" cy="494.7" r="1.95" fill="url(#ctr)" stroke="#7c4852" stroke-width="1.05"/><circle cx="215.9" cy="493.9" r="1.83" fill="url(#ctr)" stroke="#7c4852" stroke-width="1.05"/><circle cx="220.7" cy="494.3" r="1.81" fill="url(#ctr)" stroke="#7c4852" stroke-width="1.05"/><circle cx="232.7" cy="493.8" r="2.04" fill="url(#ctr)" stroke="#7c4852" stroke-width="1.05"/><circle cx="237.9" cy="493.7" r="2.09" fill="url(#ctr)" stroke="#7c4852" stroke-width="1.05"/><circle cx="243.1" cy="494.6" r="2.05" fill="url(#ctr)" stroke="#7c4852" stroke-width="1.05"/><circle cx="249.1" cy="494.1" r="2.11" fill="url(#ctr)" stroke="#7c4852" stroke-width="1.05"/><circle cx="259.8" cy="494.2" r="1.97" fill="url(#ctr)" stroke="#7c4852" stroke-width="1.05"/><circle cx="266.1" cy="493.8" r="2.10" fill="url(#ctr)" stroke="#7c4852" stroke-width="1.05"/></g>
<clipPath id="ci0"><rect x="25.6" y="455.5" width="51.800000000000004" height="40.0"/></clipPath><g clip-path="url(#ci0)"><rect x="25.6" y="455.5" width="51.800000000000004" height="40.0" fill="#e4e2ea"/><circle cx="64.4" cy="459" r="6.6" fill="url(#rbcB)" stroke="#8e6a72" stroke-width="0.8"/><circle cx="33.5" cy="461" r="7.1" fill="url(#rbcB)" stroke="#8e6a72" stroke-width="0.8"/><circle cx="38.8" cy="470.5" r="7.1" fill="url(#rbcB)" stroke="#8e6a72" stroke-width="0.8"/><circle cx="29.4" cy="492.5" r="5.1" fill="url(#rbcB)" stroke="#8e6a72" stroke-width="0.8"/><circle cx="49.6" cy="479.6" r="7.1" fill="url(#rbcB)" stroke="#8e6a72" stroke-width="0.8"/><circle cx="58.5" cy="485" r="7.1" fill="url(#rbcB)" stroke="#8e6a72" stroke-width="0.8"/><circle cx="66.5" cy="485.5" r="7.1" fill="url(#rbcB)" stroke="#8e6a72" stroke-width="0.8"/><circle cx="73" cy="479" r="6.8" fill="url(#rbcB)" stroke="#8e6a72" stroke-width="0.8"/></g>
<clipPath id="ci1"><rect x="107.5" y="455.5" width="52.0" height="40.0"/></clipPath><g clip-path="url(#ci1)"><rect x="107.5" y="455.5" width="52.0" height="40.0" fill="#e6e4ec"/><circle cx="117" cy="452" r="6.6" fill="url(#rbcB)" stroke="#8e6a72" stroke-width="0.8"/><circle cx="131.8" cy="455" r="7.6" fill="url(#rbcB)" stroke="#8e6a72" stroke-width="0.8"/><circle cx="117.5" cy="478" r="6.199999999999999" fill="url(#rbcB)" stroke="#8e6a72" stroke-width="0.8"/><circle cx="125.5" cy="478" r="6.199999999999999" fill="url(#rbcB)" stroke="#8e6a72" stroke-width="0.8"/><circle cx="133.5" cy="477" r="6.3999999999999995" fill="url(#rbcB)" stroke="#8e6a72" stroke-width="0.8"/><circle cx="141.5" cy="474.5" r="6.6" fill="url(#rbcB)" stroke="#8e6a72" stroke-width="0.8"/><circle cx="143" cy="500" r="4.6" fill="url(#rbcB)" stroke="#8e6a72" stroke-width="0.8"/></g>
<clipPath id="ci2"><rect x="189.5" y="455.5" width="51.0" height="40.0"/></clipPath><g clip-path="url(#ci2)"><rect x="189.5" y="455.5" width="51.0" height="40.0" fill="#f8f2f4"/><circle cx="196" cy="456" r="4.7" fill="url(#ctrB)" stroke="#7a4e58" stroke-width="1.6"/><circle cx="218" cy="456" r="5.2" fill="url(#ctrB)" stroke="#7a4e58" stroke-width="1.6"/><circle cx="233" cy="456" r="3.7" fill="url(#ctrB)" stroke="#7a4e58" stroke-width="1.6"/><circle cx="196.5" cy="467.5" r="4.7" fill="url(#ctrB)" stroke="#7a4e58" stroke-width="1.6"/><circle cx="212" cy="467" r="4.7" fill="url(#ctrB)" stroke="#7a4e58" stroke-width="1.6"/><circle cx="228.5" cy="468" r="6.2" fill="url(#ctrB)" stroke="#7a4e58" stroke-width="1.6"/><circle cx="229" cy="482.5" r="5.7" fill="url(#ctrB)" stroke="#7a4e58" stroke-width="1.6"/><circle cx="219" cy="483" r="4.2" fill="url(#ctrB)" stroke="#7a4e58" stroke-width="1.6"/><circle cx="210" cy="483" r="4.7" fill="url(#ctrB)" stroke="#7a4e58" stroke-width="1.6"/><circle cx="200" cy="482.5" r="5.2" fill="url(#ctrB)" stroke="#7a4e58" stroke-width="1.6"/><circle cx="195" cy="497" r="3.2" fill="url(#ctrB)" stroke="#7a4e58" stroke-width="1.6"/><circle cx="212" cy="497" r="3.2" fill="url(#ctrB)" stroke="#7a4e58" stroke-width="1.6"/><circle cx="230" cy="497" r="3.2" fill="url(#ctrB)" stroke="#7a4e58" stroke-width="1.6"/></g>
<ellipse cx="199.5" cy="483" rx="1.8" ry="1.3" fill="#2a2a7a" opacity="0.85"/><ellipse cx="229" cy="467" rx="1.2" ry="0.8" fill="#4a3a7a" opacity="0.6"/>
<g opacity="0.55"><ellipse cx="176" cy="428" rx="3.5" ry="6" fill="#a890b8"/><ellipse cx="175" cy="443" rx="2.5" ry="4" fill="#a890b8"/><ellipse cx="170" cy="418" rx="4" ry="2.5" fill="#b0a0c0"/><ellipse cx="120" cy="493" rx="8" ry="4.5" fill="#b4a8c8"/></g>
<rect x="25.6" y="455.5" width="51.800000000000004" height="40.0" stroke="#3a3a3a" stroke-width="1.15" stroke-dasharray="3.2 2" fill="none"/>
<rect x="81.6" y="425.7" width="21.80000000000001" height="14.900000000000034" stroke="#3a3a3a" stroke-width="1.15" stroke-dasharray="3.2 2" fill="none"/>
<line x1="81.6" y1="425.7" x2="25.6" y2="455.5" stroke="#3a3a3a" stroke-width="1.15" stroke-dasharray="3.2 2" fill="none"/>
<line x1="103.4" y1="440.6" x2="77.4" y2="495.5" stroke="#3a3a3a" stroke-width="1.15" stroke-dasharray="3.2 2" fill="none"/>
<rect x="107.5" y="455.5" width="52.0" height="40.0" stroke="#3a3a3a" stroke-width="1.15" stroke-dasharray="3.2 2" fill="none"/>
<rect x="160.5" y="409" width="20.0" height="14.699999999999989" stroke="#3a3a3a" stroke-width="1.15" stroke-dasharray="3.2 2" fill="none"/>
<line x1="160.5" y1="409" x2="107.5" y2="455.5" stroke="#3a3a3a" stroke-width="1.15" stroke-dasharray="3.2 2" fill="none"/>
<line x1="180.5" y1="423.7" x2="159.5" y2="495.5" stroke="#3a3a3a" stroke-width="1.15" stroke-dasharray="3.2 2" fill="none"/>
<rect x="189.5" y="455.5" width="51.0" height="40.0" stroke="#3a3a3a" stroke-width="1.15" stroke-dasharray="3.2 2" fill="none"/>
<rect x="191.5" y="407.8" width="22.30000000000001" height="16.0" stroke="#3a3a3a" stroke-width="1.15" stroke-dasharray="3.2 2" fill="none"/>
<line x1="191.5" y1="407.8" x2="189.5" y2="455.5" stroke="#3a3a3a" stroke-width="1.15" stroke-dasharray="3.2 2" fill="none"/>
<line x1="213.8" y1="407.8" x2="240.5" y2="455.5" stroke="#3a3a3a" stroke-width="1.15" stroke-dasharray="3.2 2" fill="none"/>
<rect x="0.5" y="0.5" width="519" height="563" fill="none" stroke="#000" stroke-width="1.3"/>
</svg></body></html>
